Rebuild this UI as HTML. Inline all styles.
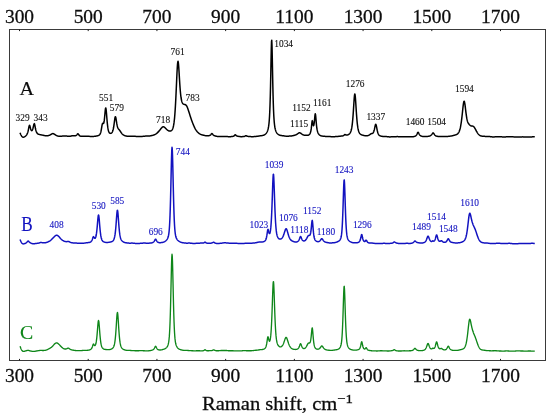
<!DOCTYPE html>
<html><head><meta charset="utf-8"><title>Raman spectra</title>
<style>
html,body{margin:0;padding:0;background:#fff;}
body{width:550px;height:417px;overflow:hidden;}
svg{display:block;will-change:transform;}
text{font-family:"Liberation Serif",serif;}
.t{font-size:18.5px;fill:#0c0c0c;stroke:#0c0c0c;stroke-width:0.25;}
.s{font-size:9.4px;stroke-width:0.1;}
.L{stroke-width:0.15;}
.tr{fill:none;stroke-width:1.5;stroke-linejoin:round;stroke-linecap:butt;}
</style></head><body>
<svg width="550" height="417" viewBox="0 0 550 417">
<rect x="0" y="0" width="550" height="417" fill="#ffffff"/>
<rect x="9.50" y="29.50" width="536.00" height="331.00" fill="none" stroke="#3a3a3a" stroke-width="1"/>
<path d="M19.50,29.50 v1.6 M19.50,360.50 v-1.6 M88.21,29.50 v1.6 M88.21,360.50 v-1.6 M156.93,29.50 v1.6 M156.93,360.50 v-1.6 M225.64,29.50 v1.6 M225.64,360.50 v-1.6 M294.36,29.50 v1.6 M294.36,360.50 v-1.6 M363.07,29.50 v1.6 M363.07,360.50 v-1.6 M431.79,29.50 v1.6 M431.79,360.50 v-1.6 M500.50,29.50 v1.6 M500.50,360.50 v-1.6" stroke="#1a1a1a" stroke-width="1" fill="none"/>
<text class="t" transform="translate(19.50,23.2) scale(1.05,1)" text-anchor="middle">300</text>
<text class="t" transform="translate(19.50,381.8) scale(1.05,1)" text-anchor="middle">300</text>
<text class="t" transform="translate(88.21,23.2) scale(1.05,1)" text-anchor="middle">500</text>
<text class="t" transform="translate(88.21,381.8) scale(1.05,1)" text-anchor="middle">500</text>
<text class="t" transform="translate(156.93,23.2) scale(1.05,1)" text-anchor="middle">700</text>
<text class="t" transform="translate(156.93,381.8) scale(1.05,1)" text-anchor="middle">700</text>
<text class="t" transform="translate(225.64,23.2) scale(1.05,1)" text-anchor="middle">900</text>
<text class="t" transform="translate(225.64,381.8) scale(1.05,1)" text-anchor="middle">900</text>
<text class="t" transform="translate(294.36,23.2) scale(1.05,1)" text-anchor="middle">1100</text>
<text class="t" transform="translate(294.36,381.8) scale(1.05,1)" text-anchor="middle">1100</text>
<text class="t" transform="translate(363.07,23.2) scale(1.05,1)" text-anchor="middle">1300</text>
<text class="t" transform="translate(363.07,381.8) scale(1.05,1)" text-anchor="middle">1300</text>
<text class="t" transform="translate(431.79,23.2) scale(1.05,1)" text-anchor="middle">1500</text>
<text class="t" transform="translate(431.79,381.8) scale(1.05,1)" text-anchor="middle">1500</text>
<text class="t" transform="translate(500.50,23.2) scale(1.05,1)" text-anchor="middle">1700</text>
<text class="t" transform="translate(500.50,381.8) scale(1.05,1)" text-anchor="middle">1700</text>
<text class="t" transform="translate(202.0,409.6) scale(1.105,1)" style="font-size:18.6px">Raman shift, cm<tspan dy="-6.6" style="font-size:13.4px">−1</tspan></text>
<path class="tr" stroke="#000000" d="M20.02,132.74 L20.27,133.34 L20.52,133.93 L20.77,134.49 L21.02,135.01 L21.27,135.48 L21.52,135.90 L21.77,136.26 L22.02,136.56 L22.27,136.80 L22.52,136.98 L22.77,137.11 L23.02,137.19 L23.27,137.21 L23.52,137.20 L23.77,137.14 L24.02,137.06 L24.27,136.94 L24.52,136.81 L24.77,136.65 L25.02,136.47 L25.27,136.28 L25.52,136.07 L25.77,135.85 L26.02,135.59 L26.27,135.31 L26.52,134.98 L26.77,134.61 L27.02,134.18 L27.27,133.66 L27.52,133.04 L27.77,132.28 L28.02,131.38 L28.27,130.30 L28.52,129.06 L28.77,127.74 L29.02,126.51 L29.27,125.62 L29.52,125.29 L29.77,125.60 L30.02,126.39 L30.27,127.40 L30.52,128.40 L30.77,129.25 L31.02,129.90 L31.27,130.34 L31.52,130.59 L31.77,130.65 L32.02,130.52 L32.27,130.22 L32.52,129.71 L32.77,129.01 L33.02,128.11 L33.27,127.02 L33.52,125.85 L33.77,124.73 L34.02,123.92 L34.27,123.65 L34.52,124.02 L34.77,124.95 L35.02,126.19 L35.27,127.53 L35.52,128.78 L35.77,129.89 L36.02,130.81 L36.27,131.57 L36.52,132.18 L36.77,132.67 L37.02,133.06 L37.27,133.38 L37.52,133.63 L37.77,133.83 L38.02,133.99 L38.27,134.12 L38.52,134.23 L38.77,134.32 L39.02,134.39 L39.27,134.45 L39.52,134.51 L39.77,134.57 L40.02,134.62 L40.27,134.67 L40.52,134.72 L40.77,134.77 L41.02,134.82 L41.27,134.87 L41.52,134.92 L41.77,134.97 L42.02,135.02 L42.27,135.08 L42.52,135.13 L42.77,135.18 L43.02,135.24 L43.27,135.29 L43.52,135.35 L43.77,135.41 L44.02,135.46 L44.27,135.52 L44.52,135.57 L44.77,135.62 L45.02,135.67 L45.27,135.71 L45.52,135.75 L45.77,135.78 L46.02,135.80 L46.27,135.82 L46.52,135.82 L46.77,135.82 L47.02,135.80 L47.27,135.78 L47.52,135.75 L47.77,135.71 L48.02,135.66 L48.27,135.60 L48.52,135.53 L48.77,135.46 L49.02,135.38 L49.27,135.29 L49.52,135.19 L49.77,135.08 L50.02,134.97 L50.27,134.84 L50.52,134.70 L50.77,134.56 L51.02,134.40 L51.27,134.25 L51.52,134.10 L51.77,133.95 L52.02,133.82 L52.27,133.71 L52.52,133.64 L52.77,133.60 L53.02,133.61 L53.27,133.65 L53.52,133.73 L53.77,133.84 L54.02,133.98 L54.27,134.13 L54.52,134.30 L54.77,134.47 L55.02,134.64 L55.27,134.81 L55.52,134.97 L55.77,135.13 L56.02,135.28 L56.27,135.42 L56.52,135.54 L56.77,135.66 L57.02,135.77 L57.27,135.86 L57.52,135.95 L57.77,136.02 L58.02,136.08 L58.27,136.13 L58.52,136.17 L58.77,136.20 L59.02,136.22 L59.27,136.24 L59.52,136.25 L59.77,136.25 L60.02,136.25 L60.27,136.25 L60.52,136.24 L60.77,136.23 L61.02,136.22 L61.27,136.20 L61.52,136.19 L61.77,136.17 L62.02,136.14 L62.27,136.12 L62.52,136.09 L62.77,136.06 L63.02,136.03 L63.27,136.00 L63.52,135.96 L63.77,135.94 L64.02,135.92 L64.27,135.90 L64.52,135.89 L64.77,135.89 L65.02,135.89 L65.27,135.91 L65.52,135.92 L65.77,135.95 L66.02,135.97 L66.27,136.01 L66.52,136.04 L66.77,136.07 L67.02,136.11 L67.27,136.14 L67.52,136.18 L67.77,136.21 L68.02,136.24 L68.27,136.26 L68.52,136.28 L68.77,136.29 L69.02,136.30 L69.27,136.29 L69.52,136.28 L69.77,136.26 L70.02,136.23 L70.27,136.19 L70.52,136.14 L70.77,136.09 L71.02,136.03 L71.27,135.96 L71.52,135.90 L71.77,135.84 L72.02,135.78 L72.27,135.73 L72.52,135.70 L72.77,135.68 L73.02,135.67 L73.27,135.68 L73.52,135.70 L73.77,135.72 L74.02,135.75 L74.27,135.77 L74.52,135.78 L74.77,135.78 L75.02,135.76 L75.27,135.73 L75.52,135.68 L75.77,135.60 L76.02,135.49 L76.27,135.35 L76.52,135.16 L76.77,134.91 L77.02,134.62 L77.27,134.29 L77.52,133.97 L77.77,133.78 L78.02,133.79 L78.27,134.01 L78.52,134.35 L78.77,134.73 L79.02,135.08 L79.27,135.37 L79.52,135.61 L79.77,135.80 L80.02,135.95 L80.27,136.07 L80.52,136.16 L80.77,136.23 L81.02,136.28 L81.27,136.31 L81.52,136.33 L81.77,136.34 L82.02,136.34 L82.27,136.33 L82.52,136.32 L82.77,136.30 L83.02,136.28 L83.27,136.26 L83.52,136.23 L83.77,136.21 L84.02,136.20 L84.27,136.19 L84.52,136.18 L84.77,136.18 L85.02,136.18 L85.27,136.19 L85.52,136.21 L85.77,136.22 L86.02,136.24 L86.27,136.26 L86.52,136.27 L86.77,136.28 L87.02,136.29 L87.27,136.30 L87.52,136.30 L87.77,136.31 L88.02,136.31 L88.27,136.31 L88.52,136.32 L88.77,136.33 L89.02,136.34 L89.27,136.35 L89.52,136.37 L89.77,136.38 L90.02,136.41 L90.27,136.43 L90.52,136.45 L90.77,136.47 L91.02,136.49 L91.27,136.51 L91.52,136.52 L91.77,136.53 L92.02,136.53 L92.27,136.53 L92.52,136.52 L92.77,136.51 L93.02,136.49 L93.27,136.47 L93.52,136.44 L93.77,136.41 L94.02,136.38 L94.27,136.35 L94.52,136.31 L94.77,136.28 L95.02,136.24 L95.27,136.21 L95.52,136.18 L95.77,136.14 L96.02,136.10 L96.27,136.06 L96.52,136.02 L96.77,135.97 L97.02,135.92 L97.27,135.86 L97.52,135.79 L97.77,135.72 L98.02,135.63 L98.27,135.54 L98.52,135.44 L98.77,135.32 L99.02,135.18 L99.27,135.01 L99.52,134.81 L99.77,134.55 L100.02,134.19 L100.27,133.71 L100.52,133.07 L100.77,132.22 L101.02,131.14 L101.27,129.85 L101.52,128.37 L101.77,126.82 L102.02,125.35 L102.27,124.17 L102.52,123.46 L102.77,123.26 L103.02,123.39 L103.27,123.56 L103.52,123.51 L103.77,123.04 L104.02,122.01 L104.27,120.38 L104.52,118.18 L104.77,115.55 L105.02,112.74 L105.27,110.19 L105.52,108.43 L105.77,107.93 L106.02,108.87 L106.27,111.02 L106.52,113.90 L106.77,117.03 L107.02,120.06 L107.27,122.81 L107.52,125.17 L107.77,127.14 L108.02,128.74 L108.27,129.99 L108.52,130.96 L108.77,131.70 L109.02,132.25 L109.27,132.65 L109.52,132.94 L109.77,133.14 L110.02,133.27 L110.27,133.35 L110.52,133.38 L110.77,133.36 L111.02,133.29 L111.27,133.18 L111.52,133.01 L111.77,132.78 L112.02,132.47 L112.27,132.06 L112.52,131.54 L112.77,130.87 L113.02,130.04 L113.27,129.01 L113.52,127.77 L113.77,126.30 L114.02,124.61 L114.27,122.75 L114.52,120.81 L114.77,118.99 L115.02,117.52 L115.27,116.69 L115.52,116.66 L115.77,117.40 L116.02,118.70 L116.27,120.30 L116.52,121.94 L116.77,123.48 L117.02,124.83 L117.27,125.96 L117.52,126.88 L117.77,127.60 L118.02,128.17 L118.27,128.62 L118.52,128.98 L118.77,129.29 L119.02,129.59 L119.27,129.88 L119.52,130.20 L119.77,130.53 L120.02,130.89 L120.27,131.26 L120.52,131.64 L120.77,132.01 L121.02,132.38 L121.27,132.74 L121.52,133.07 L121.77,133.39 L122.02,133.68 L122.27,133.95 L122.52,134.20 L122.77,134.43 L123.02,134.63 L123.27,134.82 L123.52,134.99 L123.77,135.15 L124.02,135.29 L124.27,135.41 L124.52,135.53 L124.77,135.64 L125.02,135.73 L125.27,135.82 L125.52,135.89 L125.77,135.96 L126.02,136.02 L126.27,136.07 L126.52,136.11 L126.77,136.15 L127.02,136.17 L127.27,136.19 L127.52,136.21 L127.77,136.22 L128.02,136.23 L128.27,136.24 L128.52,136.24 L128.77,136.25 L129.02,136.26 L129.27,136.26 L129.52,136.27 L129.77,136.28 L130.02,136.29 L130.27,136.29 L130.52,136.30 L130.77,136.31 L131.02,136.32 L131.27,136.32 L131.52,136.33 L131.77,136.33 L132.02,136.33 L132.27,136.32 L132.52,136.32 L132.77,136.31 L133.02,136.30 L133.27,136.29 L133.52,136.29 L133.77,136.28 L134.02,136.28 L134.27,136.28 L134.52,136.29 L134.77,136.30 L135.02,136.31 L135.27,136.33 L135.52,136.35 L135.77,136.38 L136.02,136.40 L136.27,136.43 L136.52,136.46 L136.77,136.49 L137.02,136.51 L137.27,136.54 L137.52,136.55 L137.77,136.57 L138.02,136.57 L138.27,136.58 L138.52,136.58 L138.77,136.57 L139.02,136.56 L139.27,136.55 L139.52,136.54 L139.77,136.52 L140.02,136.51 L140.27,136.49 L140.52,136.48 L140.77,136.46 L141.02,136.45 L141.27,136.44 L141.52,136.43 L141.77,136.42 L142.02,136.41 L142.27,136.39 L142.52,136.38 L142.77,136.37 L143.02,136.35 L143.27,136.33 L143.52,136.30 L143.77,136.28 L144.02,136.25 L144.27,136.22 L144.52,136.19 L144.77,136.16 L145.02,136.13 L145.27,136.11 L145.52,136.08 L145.77,136.06 L146.02,136.04 L146.27,136.03 L146.52,136.02 L146.77,136.02 L147.02,136.02 L147.27,136.02 L147.52,136.02 L147.77,136.02 L148.02,136.02 L148.27,136.02 L148.52,136.02 L148.77,136.01 L149.02,136.00 L149.27,135.98 L149.52,135.96 L149.77,135.93 L150.02,135.89 L150.27,135.86 L150.52,135.81 L150.77,135.76 L151.02,135.71 L151.27,135.66 L151.52,135.60 L151.77,135.55 L152.02,135.49 L152.27,135.43 L152.52,135.36 L152.77,135.30 L153.02,135.23 L153.27,135.16 L153.52,135.08 L153.77,135.00 L154.02,134.91 L154.27,134.81 L154.52,134.70 L154.77,134.59 L155.02,134.46 L155.27,134.32 L155.52,134.17 L155.77,134.01 L156.02,133.84 L156.27,133.66 L156.52,133.47 L156.77,133.28 L157.02,133.07 L157.27,132.85 L157.52,132.63 L157.77,132.39 L158.02,132.15 L158.27,131.90 L158.52,131.64 L158.77,131.37 L159.02,131.09 L159.27,130.80 L159.52,130.50 L159.77,130.19 L160.02,129.87 L160.27,129.55 L160.52,129.22 L160.77,128.89 L161.02,128.57 L161.27,128.26 L161.52,127.96 L161.77,127.68 L162.02,127.43 L162.27,127.21 L162.52,127.03 L162.77,126.90 L163.02,126.82 L163.27,126.78 L163.52,126.80 L163.77,126.86 L164.02,126.97 L164.27,127.12 L164.52,127.30 L164.77,127.51 L165.02,127.74 L165.27,127.99 L165.52,128.25 L165.77,128.51 L166.02,128.77 L166.27,129.02 L166.52,129.27 L166.77,129.50 L167.02,129.72 L167.27,129.93 L167.52,130.12 L167.77,130.30 L168.02,130.45 L168.27,130.60 L168.52,130.72 L168.77,130.83 L169.02,130.92 L169.27,130.99 L169.52,131.05 L169.77,131.08 L170.02,131.09 L170.27,131.08 L170.52,131.04 L170.77,130.97 L171.02,130.86 L171.27,130.72 L171.52,130.52 L171.77,130.28 L172.02,129.96 L172.27,129.57 L172.52,129.09 L172.77,128.49 L173.02,127.75 L173.27,126.84 L173.52,125.72 L173.77,124.36 L174.02,122.69 L174.27,120.69 L174.52,118.30 L174.77,115.47 L175.02,112.18 L175.27,108.41 L175.52,104.14 L175.77,99.41 L176.02,94.26 L176.27,88.80 L176.52,83.17 L176.77,77.58 L177.02,72.31 L177.27,67.72 L177.52,64.17 L177.77,61.97 L178.02,61.31 L178.27,62.19 L178.52,64.40 L178.77,67.62 L179.02,71.48 L179.27,75.62 L179.52,79.77 L179.77,83.72 L180.02,87.34 L180.27,90.55 L180.52,93.30 L180.77,95.61 L181.02,97.49 L181.27,99.02 L181.52,100.23 L181.77,101.20 L182.02,101.98 L182.27,102.60 L182.52,103.09 L182.77,103.48 L183.02,103.78 L183.27,104.01 L183.52,104.17 L183.77,104.28 L184.02,104.36 L184.27,104.41 L184.52,104.45 L184.77,104.49 L185.02,104.54 L185.27,104.63 L185.52,104.75 L185.77,104.92 L186.02,105.14 L186.27,105.43 L186.52,105.78 L186.77,106.20 L187.02,106.69 L187.27,107.23 L187.52,107.83 L187.77,108.48 L188.02,109.18 L188.27,109.90 L188.52,110.66 L188.77,111.44 L189.02,112.23 L189.27,113.03 L189.52,113.83 L189.77,114.63 L190.02,115.43 L190.27,116.21 L190.52,116.99 L190.77,117.75 L191.02,118.49 L191.27,119.23 L191.52,119.94 L191.77,120.64 L192.02,121.33 L192.27,122.01 L192.52,122.67 L192.77,123.31 L193.02,123.94 L193.27,124.56 L193.52,125.16 L193.77,125.74 L194.02,126.31 L194.27,126.86 L194.52,127.38 L194.77,127.89 L195.02,128.37 L195.27,128.83 L195.52,129.26 L195.77,129.67 L196.02,130.07 L196.27,130.44 L196.52,130.78 L196.77,131.11 L197.02,131.43 L197.27,131.72 L197.52,132.00 L197.77,132.26 L198.02,132.51 L198.27,132.75 L198.52,132.98 L198.77,133.19 L199.02,133.38 L199.27,133.57 L199.52,133.74 L199.77,133.90 L200.02,134.05 L200.27,134.18 L200.52,134.30 L200.77,134.41 L201.02,134.52 L201.27,134.61 L201.52,134.69 L201.77,134.77 L202.02,134.84 L202.27,134.90 L202.52,134.97 L202.77,135.03 L203.02,135.09 L203.27,135.15 L203.52,135.21 L203.77,135.27 L204.02,135.33 L204.27,135.39 L204.52,135.45 L204.77,135.51 L205.02,135.57 L205.27,135.62 L205.52,135.67 L205.77,135.71 L206.02,135.74 L206.27,135.77 L206.52,135.80 L206.77,135.81 L207.02,135.82 L207.27,135.82 L207.52,135.82 L207.77,135.80 L208.02,135.78 L208.27,135.76 L208.52,135.73 L208.77,135.69 L209.02,135.64 L209.27,135.58 L209.52,135.50 L209.77,135.40 L210.02,135.28 L210.27,135.12 L210.52,134.93 L210.77,134.68 L211.02,134.39 L211.27,134.08 L211.52,133.80 L211.77,133.62 L212.02,133.62 L212.27,133.79 L212.52,134.07 L212.77,134.39 L213.02,134.70 L213.27,134.96 L213.52,135.17 L213.77,135.34 L214.02,135.49 L214.27,135.61 L214.52,135.71 L214.77,135.80 L215.02,135.88 L215.27,135.95 L215.52,136.02 L215.77,136.09 L216.02,136.16 L216.27,136.22 L216.52,136.28 L216.77,136.33 L217.02,136.38 L217.27,136.42 L217.52,136.46 L217.77,136.49 L218.02,136.52 L218.27,136.54 L218.52,136.56 L218.77,136.57 L219.02,136.58 L219.27,136.58 L219.52,136.58 L219.77,136.58 L220.02,136.58 L220.27,136.58 L220.52,136.59 L220.77,136.59 L221.02,136.59 L221.27,136.59 L221.52,136.60 L221.77,136.60 L222.02,136.61 L222.27,136.61 L222.52,136.61 L222.77,136.61 L223.02,136.61 L223.27,136.60 L223.52,136.59 L223.77,136.58 L224.02,136.57 L224.27,136.56 L224.52,136.55 L224.77,136.53 L225.02,136.52 L225.27,136.51 L225.52,136.50 L225.77,136.50 L226.02,136.50 L226.27,136.51 L226.52,136.52 L226.77,136.53 L227.02,136.55 L227.27,136.57 L227.52,136.59 L227.77,136.62 L228.02,136.64 L228.27,136.66 L228.52,136.68 L228.77,136.69 L229.02,136.70 L229.27,136.70 L229.52,136.70 L229.77,136.70 L230.02,136.69 L230.27,136.67 L230.52,136.66 L230.77,136.64 L231.02,136.61 L231.27,136.59 L231.52,136.56 L231.77,136.53 L232.02,136.50 L232.27,136.46 L232.52,136.43 L232.77,136.38 L233.02,136.33 L233.27,136.26 L233.52,136.17 L233.77,136.06 L234.02,135.90 L234.27,135.69 L234.52,135.43 L234.77,135.13 L235.02,134.87 L235.27,134.75 L235.52,134.84 L235.77,135.08 L236.02,135.35 L236.27,135.59 L236.52,135.77 L236.77,135.91 L237.02,136.02 L237.27,136.10 L237.52,136.16 L237.77,136.22 L238.02,136.27 L238.27,136.32 L238.52,136.37 L238.77,136.41 L239.02,136.45 L239.27,136.49 L239.52,136.53 L239.77,136.57 L240.02,136.60 L240.27,136.62 L240.52,136.64 L240.77,136.66 L241.02,136.66 L241.27,136.67 L241.52,136.67 L241.77,136.66 L242.02,136.65 L242.27,136.64 L242.52,136.62 L242.77,136.61 L243.02,136.59 L243.27,136.56 L243.52,136.53 L243.77,136.50 L244.02,136.46 L244.27,136.41 L244.52,136.34 L244.77,136.25 L245.02,136.13 L245.27,135.98 L245.52,135.81 L245.77,135.70 L246.02,135.68 L246.27,135.77 L246.52,135.91 L246.77,136.05 L247.02,136.17 L247.27,136.25 L247.52,136.31 L247.77,136.35 L248.02,136.38 L248.27,136.40 L248.52,136.42 L248.77,136.43 L249.02,136.45 L249.27,136.47 L249.52,136.49 L249.77,136.52 L250.02,136.54 L250.27,136.57 L250.52,136.59 L250.77,136.62 L251.02,136.64 L251.27,136.66 L251.52,136.67 L251.77,136.68 L252.02,136.69 L252.27,136.69 L252.52,136.69 L252.77,136.68 L253.02,136.67 L253.27,136.65 L253.52,136.63 L253.77,136.61 L254.02,136.58 L254.27,136.56 L254.52,136.54 L254.77,136.51 L255.02,136.49 L255.27,136.47 L255.52,136.45 L255.77,136.43 L256.02,136.41 L256.27,136.39 L256.52,136.36 L256.77,136.34 L257.02,136.31 L257.27,136.29 L257.52,136.25 L257.77,136.22 L258.02,136.18 L258.27,136.14 L258.52,136.10 L258.77,136.05 L259.02,136.01 L259.27,135.96 L259.52,135.92 L259.77,135.88 L260.02,135.84 L260.27,135.80 L260.52,135.77 L260.77,135.74 L261.02,135.71 L261.27,135.68 L261.52,135.65 L261.77,135.62 L262.02,135.58 L262.27,135.54 L262.52,135.50 L262.77,135.45 L263.02,135.39 L263.27,135.32 L263.52,135.23 L263.77,135.14 L264.02,135.03 L264.27,134.90 L264.52,134.76 L264.77,134.60 L265.02,134.42 L265.27,134.23 L265.52,134.01 L265.77,133.76 L266.02,133.49 L266.27,133.18 L266.52,132.84 L266.77,132.44 L267.02,131.99 L267.27,131.47 L267.52,130.85 L267.77,130.13 L268.02,129.26 L268.27,128.21 L268.52,126.90 L268.77,125.23 L269.02,123.08 L269.27,120.26 L269.52,116.52 L269.77,111.58 L270.02,105.14 L270.27,96.91 L270.52,86.73 L270.77,74.73 L271.02,61.72 L271.27,49.59 L271.52,41.42 L271.77,40.16 L272.02,46.32 L272.27,57.54 L272.52,70.55 L272.77,83.03 L273.02,93.86 L273.27,102.74 L273.52,109.76 L273.77,115.17 L274.02,119.29 L274.27,122.40 L274.52,124.76 L274.77,126.58 L275.02,128.00 L275.27,129.13 L275.52,130.06 L275.77,130.82 L276.02,131.46 L276.27,132.00 L276.52,132.46 L276.77,132.86 L277.02,133.21 L277.27,133.51 L277.52,133.77 L277.77,134.00 L278.02,134.21 L278.27,134.40 L278.52,134.56 L278.77,134.71 L279.02,134.85 L279.27,134.97 L279.52,135.08 L279.77,135.17 L280.02,135.26 L280.27,135.33 L280.52,135.40 L280.77,135.45 L281.02,135.50 L281.27,135.54 L281.52,135.58 L281.77,135.61 L282.02,135.64 L282.27,135.67 L282.52,135.70 L282.77,135.72 L283.02,135.75 L283.27,135.79 L283.52,135.82 L283.77,135.86 L284.02,135.90 L284.27,135.93 L284.52,135.98 L284.77,136.02 L285.02,136.05 L285.27,136.09 L285.52,136.12 L285.77,136.15 L286.02,136.18 L286.27,136.20 L286.52,136.21 L286.77,136.22 L287.02,136.22 L287.27,136.22 L287.52,136.21 L287.77,136.20 L288.02,136.19 L288.27,136.17 L288.52,136.15 L288.77,136.14 L289.02,136.12 L289.27,136.11 L289.52,136.09 L289.77,136.08 L290.02,136.06 L290.27,136.05 L290.52,136.03 L290.77,136.01 L291.02,135.99 L291.27,135.96 L291.52,135.93 L291.77,135.90 L292.02,135.86 L292.27,135.82 L292.52,135.77 L292.77,135.72 L293.02,135.66 L293.27,135.60 L293.52,135.54 L293.77,135.48 L294.02,135.41 L294.27,135.34 L294.52,135.27 L294.77,135.20 L295.02,135.12 L295.27,135.04 L295.52,134.95 L295.77,134.86 L296.02,134.76 L296.27,134.64 L296.52,134.52 L296.77,134.38 L297.02,134.22 L297.27,134.06 L297.52,133.88 L297.77,133.70 L298.02,133.51 L298.27,133.33 L298.52,133.16 L298.77,133.02 L299.02,132.90 L299.27,132.82 L299.52,132.79 L299.77,132.80 L300.02,132.86 L300.27,132.96 L300.52,133.09 L300.77,133.25 L301.02,133.43 L301.27,133.62 L301.52,133.81 L301.77,133.99 L302.02,134.17 L302.27,134.34 L302.52,134.49 L302.77,134.63 L303.02,134.76 L303.27,134.87 L303.52,134.96 L303.77,135.04 L304.02,135.11 L304.27,135.17 L304.52,135.22 L304.77,135.26 L305.02,135.29 L305.27,135.31 L305.52,135.33 L305.77,135.35 L306.02,135.36 L306.27,135.37 L306.52,135.37 L306.77,135.37 L307.02,135.37 L307.27,135.35 L307.52,135.33 L307.77,135.29 L308.02,135.24 L308.27,135.17 L308.52,135.08 L308.77,134.95 L309.02,134.80 L309.27,134.59 L309.52,134.33 L309.77,134.00 L310.02,133.58 L310.27,133.03 L310.52,132.32 L310.77,131.37 L311.02,130.10 L311.27,128.41 L311.52,126.25 L311.77,123.76 L312.02,121.57 L312.27,120.64 L312.52,121.33 L312.77,122.91 L313.02,124.43 L313.27,125.38 L313.52,125.66 L313.77,125.25 L314.02,124.16 L314.27,122.40 L314.52,120.02 L314.77,117.30 L315.02,114.88 L315.27,113.73 L315.52,114.47 L315.77,116.83 L316.02,119.91 L316.27,122.92 L316.52,125.50 L316.77,127.56 L317.02,129.18 L317.27,130.44 L317.52,131.43 L317.77,132.21 L318.02,132.85 L318.27,133.36 L318.52,133.79 L318.77,134.15 L319.02,134.46 L319.27,134.72 L319.52,134.95 L319.77,135.14 L320.02,135.31 L320.27,135.46 L320.52,135.58 L320.77,135.69 L321.02,135.79 L321.27,135.87 L321.52,135.93 L321.77,135.99 L322.02,136.04 L322.27,136.08 L322.52,136.12 L322.77,136.15 L323.02,136.18 L323.27,136.21 L323.52,136.23 L323.77,136.26 L324.02,136.28 L324.27,136.31 L324.52,136.33 L324.77,136.35 L325.02,136.37 L325.27,136.39 L325.52,136.41 L325.77,136.42 L326.02,136.43 L326.27,136.43 L326.52,136.44 L326.77,136.44 L327.02,136.43 L327.27,136.43 L327.52,136.43 L327.77,136.43 L328.02,136.43 L328.27,136.43 L328.52,136.43 L328.77,136.44 L329.02,136.46 L329.27,136.47 L329.52,136.50 L329.77,136.52 L330.02,136.55 L330.27,136.58 L330.52,136.61 L330.77,136.64 L331.02,136.66 L331.27,136.69 L331.52,136.71 L331.77,136.73 L332.02,136.74 L332.27,136.75 L332.52,136.75 L332.77,136.75 L333.02,136.74 L333.27,136.73 L333.52,136.72 L333.77,136.70 L334.02,136.69 L334.27,136.67 L334.52,136.66 L334.77,136.64 L335.02,136.63 L335.27,136.61 L335.52,136.60 L335.77,136.59 L336.02,136.58 L336.27,136.56 L336.52,136.55 L336.77,136.54 L337.02,136.52 L337.27,136.50 L337.52,136.48 L337.77,136.45 L338.02,136.42 L338.27,136.39 L338.52,136.36 L338.77,136.33 L339.02,136.29 L339.27,136.26 L339.52,136.23 L339.77,136.20 L340.02,136.18 L340.27,136.15 L340.52,136.13 L340.77,136.11 L341.02,136.10 L341.27,136.08 L341.52,136.06 L341.77,136.04 L342.02,136.02 L342.27,135.98 L342.52,135.94 L342.77,135.88 L343.02,135.80 L343.27,135.70 L343.52,135.56 L343.77,135.39 L344.02,135.19 L344.27,134.96 L344.52,134.75 L344.77,134.60 L345.02,134.55 L345.27,134.62 L345.52,134.73 L345.77,134.85 L346.02,134.95 L346.27,135.01 L346.52,135.04 L346.77,135.05 L347.02,135.02 L347.27,134.98 L347.52,134.92 L347.77,134.85 L348.02,134.75 L348.27,134.63 L348.52,134.50 L348.77,134.34 L349.02,134.15 L349.27,133.94 L349.52,133.69 L349.77,133.41 L350.02,133.07 L350.27,132.67 L350.52,132.19 L350.77,131.62 L351.02,130.91 L351.27,130.05 L351.52,128.99 L351.77,127.69 L352.02,126.10 L352.27,124.18 L352.52,121.89 L352.77,119.19 L353.02,116.09 L353.27,112.60 L353.52,108.80 L353.77,104.84 L354.02,100.98 L354.27,97.60 L354.52,95.13 L354.77,94.00 L355.02,94.42 L355.27,96.31 L355.52,99.34 L355.77,103.05 L356.02,107.02 L356.27,110.94 L356.52,114.61 L356.77,117.93 L357.02,120.84 L357.27,123.34 L357.52,125.45 L357.77,127.20 L358.02,128.64 L358.27,129.81 L358.52,130.76 L358.77,131.53 L359.02,132.15 L359.27,132.66 L359.52,133.09 L359.77,133.44 L360.02,133.73 L360.27,133.98 L360.52,134.19 L360.77,134.37 L361.02,134.53 L361.27,134.66 L361.52,134.78 L361.77,134.88 L362.02,134.98 L362.27,135.06 L362.52,135.13 L362.77,135.20 L363.02,135.27 L363.27,135.33 L363.52,135.40 L363.77,135.45 L364.02,135.51 L364.27,135.57 L364.52,135.62 L364.77,135.67 L365.02,135.71 L365.27,135.75 L365.52,135.78 L365.77,135.80 L366.02,135.81 L366.27,135.81 L366.52,135.81 L366.77,135.79 L367.02,135.76 L367.27,135.72 L367.52,135.67 L367.77,135.61 L368.02,135.54 L368.27,135.45 L368.52,135.36 L368.77,135.25 L369.02,135.12 L369.27,134.98 L369.52,134.83 L369.77,134.66 L370.02,134.48 L370.27,134.29 L370.52,134.11 L370.77,133.94 L371.02,133.80 L371.27,133.68 L371.52,133.60 L371.77,133.55 L372.02,133.51 L372.27,133.46 L372.52,133.37 L372.77,133.23 L373.02,133.00 L373.27,132.67 L373.52,132.20 L373.77,131.59 L374.02,130.82 L374.27,129.89 L374.52,128.81 L374.77,127.62 L375.02,126.42 L375.27,125.34 L375.52,124.57 L375.77,124.30 L376.02,124.62 L376.27,125.46 L376.52,126.64 L376.77,127.96 L377.02,129.29 L377.27,130.51 L377.52,131.59 L377.77,132.52 L378.02,133.28 L378.27,133.90 L378.52,134.40 L378.77,134.78 L379.02,135.09 L379.27,135.32 L379.52,135.51 L379.77,135.66 L380.02,135.78 L380.27,135.88 L380.52,135.96 L380.77,136.04 L381.02,136.11 L381.27,136.17 L381.52,136.22 L381.77,136.27 L382.02,136.31 L382.27,136.35 L382.52,136.39 L382.77,136.41 L383.02,136.44 L383.27,136.46 L383.52,136.47 L383.77,136.48 L384.02,136.49 L384.27,136.50 L384.52,136.50 L384.77,136.51 L385.02,136.51 L385.27,136.52 L385.52,136.53 L385.77,136.54 L386.02,136.55 L386.27,136.57 L386.52,136.60 L386.77,136.62 L387.02,136.65 L387.27,136.68 L387.52,136.72 L387.77,136.75 L388.02,136.78 L388.27,136.81 L388.52,136.83 L388.77,136.86 L389.02,136.87 L389.27,136.89 L389.52,136.89 L389.77,136.90 L390.02,136.90 L390.27,136.89 L390.52,136.88 L390.77,136.87 L391.02,136.86 L391.27,136.85 L391.52,136.84 L391.77,136.83 L392.02,136.82 L392.27,136.81 L392.52,136.81 L392.77,136.80 L393.02,136.80 L393.27,136.79 L393.52,136.79 L393.77,136.78 L394.02,136.77 L394.27,136.76 L394.52,136.75 L394.77,136.74 L395.02,136.72 L395.27,136.71 L395.52,136.69 L395.77,136.67 L396.02,136.65 L396.27,136.64 L396.52,136.63 L396.77,136.61 L397.02,136.61 L397.27,136.61 L397.52,136.61 L397.77,136.62 L398.02,136.63 L398.27,136.65 L398.52,136.67 L398.77,136.69 L399.02,136.72 L399.27,136.74 L399.52,136.76 L399.77,136.79 L400.02,136.81 L400.27,136.82 L400.52,136.84 L400.77,136.85 L401.02,136.85 L401.27,136.85 L401.52,136.85 L401.77,136.84 L402.02,136.83 L402.27,136.83 L402.52,136.82 L402.77,136.81 L403.02,136.80 L403.27,136.79 L403.52,136.78 L403.77,136.78 L404.02,136.78 L404.27,136.78 L404.52,136.77 L404.77,136.77 L405.02,136.77 L405.27,136.77 L405.52,136.77 L405.77,136.76 L406.02,136.76 L406.27,136.75 L406.52,136.74 L406.77,136.72 L407.02,136.71 L407.27,136.70 L407.52,136.68 L407.77,136.67 L408.02,136.66 L408.27,136.65 L408.52,136.65 L408.77,136.65 L409.02,136.66 L409.27,136.67 L409.52,136.68 L409.77,136.70 L410.02,136.72 L410.27,136.74 L410.52,136.76 L410.77,136.78 L411.02,136.79 L411.27,136.81 L411.52,136.82 L411.77,136.82 L412.02,136.82 L412.27,136.81 L412.52,136.79 L412.77,136.77 L413.02,136.74 L413.27,136.70 L413.52,136.66 L413.77,136.61 L414.02,136.55 L414.27,136.49 L414.52,136.41 L414.77,136.33 L415.02,136.23 L415.27,136.11 L415.52,135.96 L415.77,135.79 L416.02,135.58 L416.27,135.31 L416.52,134.97 L416.77,134.55 L417.02,134.05 L417.27,133.48 L417.52,132.91 L417.77,132.44 L418.02,132.22 L418.27,132.33 L418.52,132.72 L418.77,133.24 L419.02,133.79 L419.27,134.28 L419.52,134.69 L419.77,135.02 L420.02,135.29 L420.27,135.50 L420.52,135.68 L420.77,135.83 L421.02,135.95 L421.27,136.06 L421.52,136.15 L421.77,136.23 L422.02,136.31 L422.27,136.37 L422.52,136.43 L422.77,136.47 L423.02,136.51 L423.27,136.54 L423.52,136.57 L423.77,136.58 L424.02,136.59 L424.27,136.59 L424.52,136.59 L424.77,136.58 L425.02,136.57 L425.27,136.56 L425.52,136.54 L425.77,136.53 L426.02,136.51 L426.27,136.49 L426.52,136.48 L426.77,136.46 L427.02,136.44 L427.27,136.42 L427.52,136.40 L427.77,136.38 L428.02,136.35 L428.27,136.31 L428.52,136.27 L428.77,136.23 L429.02,136.17 L429.27,136.10 L429.52,136.03 L429.77,135.94 L430.02,135.83 L430.27,135.71 L430.52,135.57 L430.77,135.41 L431.02,135.22 L431.27,134.99 L431.52,134.73 L431.77,134.42 L432.02,134.08 L432.27,133.72 L432.52,133.36 L432.77,133.08 L433.02,132.92 L433.27,132.93 L433.52,133.12 L433.77,133.45 L434.02,133.84 L434.27,134.25 L434.52,134.63 L434.77,134.96 L435.02,135.24 L435.27,135.48 L435.52,135.67 L435.77,135.83 L436.02,135.96 L436.27,136.06 L436.52,136.14 L436.77,136.21 L437.02,136.27 L437.27,136.31 L437.52,136.35 L437.77,136.39 L438.02,136.42 L438.27,136.45 L438.52,136.47 L438.77,136.49 L439.02,136.51 L439.27,136.52 L439.52,136.53 L439.77,136.54 L440.02,136.54 L440.27,136.54 L440.52,136.54 L440.77,136.53 L441.02,136.52 L441.27,136.51 L441.52,136.50 L441.77,136.48 L442.02,136.47 L442.27,136.46 L442.52,136.45 L442.77,136.44 L443.02,136.44 L443.27,136.44 L443.52,136.44 L443.77,136.45 L444.02,136.46 L444.27,136.48 L444.52,136.49 L444.77,136.51 L445.02,136.52 L445.27,136.54 L445.52,136.55 L445.77,136.55 L446.02,136.56 L446.27,136.55 L446.52,136.55 L446.77,136.53 L447.02,136.52 L447.27,136.49 L447.52,136.47 L447.77,136.44 L448.02,136.41 L448.27,136.38 L448.52,136.34 L448.77,136.31 L449.02,136.28 L449.27,136.24 L449.52,136.21 L449.77,136.18 L450.02,136.15 L450.27,136.12 L450.52,136.09 L450.77,136.05 L451.02,136.01 L451.27,135.97 L451.52,135.93 L451.77,135.88 L452.02,135.83 L452.27,135.77 L452.52,135.71 L452.77,135.65 L453.02,135.59 L453.27,135.52 L453.52,135.45 L453.77,135.38 L454.02,135.31 L454.27,135.24 L454.52,135.17 L454.77,135.10 L455.02,135.03 L455.27,134.96 L455.52,134.88 L455.77,134.80 L456.02,134.71 L456.27,134.62 L456.52,134.51 L456.77,134.38 L457.02,134.24 L457.27,134.07 L457.52,133.88 L457.77,133.66 L458.02,133.40 L458.27,133.09 L458.52,132.74 L458.77,132.32 L459.02,131.84 L459.27,131.28 L459.52,130.62 L459.77,129.86 L460.02,128.98 L460.27,127.97 L460.52,126.80 L460.77,125.48 L461.02,123.99 L461.27,122.32 L461.52,120.47 L461.77,118.45 L462.02,116.27 L462.27,113.97 L462.52,111.58 L462.77,109.19 L463.02,106.90 L463.27,104.82 L463.52,103.10 L463.77,101.89 L464.02,101.28 L464.27,101.34 L464.52,102.04 L464.77,103.29 L465.02,104.97 L465.27,106.92 L465.52,108.99 L465.77,111.08 L466.02,113.09 L466.27,114.96 L466.52,116.65 L466.77,118.14 L467.02,119.42 L467.27,120.49 L467.52,121.38 L467.77,122.10 L468.02,122.67 L468.27,123.14 L468.52,123.52 L468.77,123.85 L469.02,124.15 L469.27,124.44 L469.52,124.71 L469.77,124.98 L470.02,125.22 L470.27,125.44 L470.52,125.62 L470.77,125.77 L471.02,125.88 L471.27,125.96 L471.52,126.01 L471.77,126.04 L472.02,126.06 L472.27,126.07 L472.52,126.09 L472.77,126.13 L473.02,126.21 L473.27,126.33 L473.52,126.50 L473.77,126.72 L474.02,126.99 L474.27,127.31 L474.52,127.68 L474.77,128.08 L475.02,128.51 L475.27,128.96 L475.52,129.43 L475.77,129.90 L476.02,130.37 L476.27,130.84 L476.52,131.29 L476.77,131.74 L477.02,132.16 L477.27,132.57 L477.52,132.96 L477.77,133.32 L478.02,133.66 L478.27,133.98 L478.52,134.27 L478.77,134.54 L479.02,134.78 L479.27,135.00 L479.52,135.19 L479.77,135.37 L480.02,135.52 L480.27,135.65 L480.52,135.76 L480.77,135.86 L481.02,135.94 L481.27,136.01 L481.52,136.06 L481.77,136.11 L482.02,136.14 L482.27,136.17 L482.52,136.20 L482.77,136.22 L483.02,136.24 L483.27,136.26 L483.52,136.28 L483.77,136.30 L484.02,136.32 L484.27,136.33 L484.52,136.35 L484.77,136.37 L485.02,136.39 L485.27,136.40 L485.52,136.41 L485.77,136.42 L486.02,136.43 L486.27,136.44 L486.52,136.44 L486.77,136.44 L487.02,136.44 L487.27,136.44 L487.52,136.44 L487.77,136.44 L488.02,136.44 L488.27,136.45 L488.52,136.46 L488.77,136.48 L489.02,136.50 L489.27,136.52 L489.52,136.55 L489.77,136.58 L490.02,136.61 L490.27,136.65 L490.52,136.69 L490.77,136.72 L491.02,136.76 L491.27,136.79 L491.52,136.82 L491.77,136.84 L492.02,136.86 L492.27,136.88 L492.52,136.89 L492.77,136.90 L493.02,136.90 L493.27,136.90 L493.52,136.90 L493.77,136.89 L494.02,136.89 L494.27,136.88 L494.52,136.88 L494.77,136.87 L495.02,136.87 L495.27,136.87 L495.52,136.87 L495.77,136.87 L496.02,136.87 L496.27,136.87 L496.52,136.87 L496.77,136.87 L497.02,136.87 L497.27,136.86 L497.52,136.85 L497.77,136.84 L498.02,136.83 L498.27,136.81 L498.52,136.80 L498.77,136.78 L499.02,136.77 L499.27,136.75 L499.52,136.74 L499.77,136.74 L500.02,136.74 L500.27,136.74 L500.52,136.74 L500.77,136.76 L501.02,136.77 L501.27,136.79 L501.52,136.81 L501.77,136.83 L502.02,136.86 L502.27,136.88 L502.52,136.90 L502.77,136.92 L503.02,136.94 L503.27,136.95 L503.52,136.95 L503.77,136.96 L504.02,136.95 L504.27,136.95 L504.52,136.94 L504.77,136.93 L505.02,136.92 L505.27,136.90 L505.52,136.89 L505.77,136.88 L506.02,136.86 L506.27,136.85 L506.52,136.85 L506.77,136.84 L507.02,136.83 L507.27,136.83 L507.52,136.83 L507.77,136.82 L508.02,136.82 L508.27,136.81 L508.52,136.81 L508.77,136.80 L509.02,136.79 L509.27,136.77 L509.52,136.76 L509.77,136.75 L510.02,136.73 L510.27,136.72 L510.52,136.71 L510.77,136.70 L511.02,136.69 L511.27,136.69 L511.52,136.69 L511.77,136.70 L512.02,136.71 L512.27,136.73 L512.52,136.75 L512.77,136.78 L513.02,136.81 L513.27,136.84 L513.52,136.87 L513.77,136.90 L514.02,136.92 L514.27,136.95 L514.52,136.97 L514.77,136.99 L515.02,137.00 L515.27,137.01 L515.52,137.01 L515.77,137.01 L516.02,137.01 L516.27,137.01 L516.52,137.00 L516.77,137.00 L517.02,136.99 L517.27,136.98 L517.52,136.98 L517.77,136.98 L518.02,136.97 L518.27,136.97 L518.52,136.98 L518.77,136.98 L519.02,136.98 L519.27,136.98 L519.52,136.98 L519.77,136.98 L520.02,136.97 L520.27,136.97 L520.52,136.96 L520.77,136.95 L521.02,136.94 L521.27,136.93 L521.52,136.91 L521.77,136.90 L522.02,136.89 L522.27,136.88 L522.52,136.87 L522.77,136.87 L523.02,136.87 L523.27,136.88 L523.52,136.89 L523.77,136.91 L524.02,136.93 L524.27,136.95 L524.52,136.97 L524.77,137.00 L525.02,137.02 L525.27,137.05 L525.52,137.07 L525.77,137.08 L526.02,137.10 L526.27,137.11 L526.52,137.11 L526.77,137.11 L527.02,137.11 L527.27,137.10 L527.52,137.09 L527.77,137.07 L528.02,137.06 L528.27,137.04 L528.52,137.03 L528.77,137.01 L529.02,137.00 L529.27,136.99 L529.52,136.98 L529.77,136.97 L530.02,136.96 L530.27,136.96 L530.52,136.95 L530.77,136.94 L531.02,136.93 L531.27,136.92 L531.52,136.91 L531.77,136.90 L532.02,136.88 L532.27,136.86 L532.52,136.85 L532.77,136.83 L533.02,136.81 L533.27,136.79 L533.52,136.78 L533.77,136.76 L534.02,136.75 L534.27,136.75 L534.52,136.75 L534.77,136.76"/>
<path class="tr" stroke="#1212c0" d="M20.02,239.43 L20.27,240.04 L20.52,240.64 L20.77,241.20 L21.02,241.72 L21.27,242.19 L21.52,242.60 L21.77,242.95 L22.02,243.24 L22.27,243.48 L22.52,243.66 L22.77,243.79 L23.02,243.86 L23.27,243.89 L23.52,243.88 L23.77,243.85 L24.02,243.79 L24.27,243.72 L24.52,243.64 L24.77,243.55 L25.02,243.46 L25.27,243.36 L25.52,243.24 L25.77,243.11 L26.02,242.96 L26.27,242.78 L26.52,242.57 L26.77,242.32 L27.02,242.04 L27.27,241.73 L27.52,241.43 L27.77,241.19 L28.02,241.05 L28.27,241.05 L28.52,241.19 L28.77,241.41 L29.02,241.68 L29.27,241.94 L29.52,242.18 L29.77,242.40 L30.02,242.58 L30.27,242.75 L30.52,242.89 L30.77,243.02 L31.02,243.14 L31.27,243.25 L31.52,243.35 L31.77,243.44 L32.02,243.52 L32.27,243.59 L32.52,243.65 L32.77,243.70 L33.02,243.73 L33.27,243.75 L33.52,243.76 L33.77,243.75 L34.02,243.74 L34.27,243.71 L34.52,243.68 L34.77,243.65 L35.02,243.61 L35.27,243.57 L35.52,243.54 L35.77,243.50 L36.02,243.47 L36.27,243.44 L36.52,243.41 L36.77,243.38 L37.02,243.35 L37.27,243.32 L37.52,243.29 L37.77,243.26 L38.02,243.22 L38.27,243.17 L38.52,243.12 L38.77,243.06 L39.02,242.99 L39.27,242.92 L39.52,242.84 L39.77,242.75 L40.02,242.66 L40.27,242.58 L40.52,242.51 L40.77,242.47 L41.02,242.46 L41.27,242.48 L41.52,242.52 L41.77,242.58 L42.02,242.63 L42.27,242.68 L42.52,242.73 L42.77,242.77 L43.02,242.80 L43.27,242.83 L43.52,242.85 L43.77,242.86 L44.02,242.87 L44.27,242.86 L44.52,242.85 L44.77,242.82 L45.02,242.79 L45.27,242.75 L45.52,242.70 L45.77,242.65 L46.02,242.58 L46.27,242.51 L46.52,242.44 L46.77,242.36 L47.02,242.27 L47.27,242.18 L47.52,242.08 L47.77,241.98 L48.02,241.87 L48.27,241.76 L48.52,241.65 L48.77,241.53 L49.02,241.41 L49.27,241.28 L49.52,241.14 L49.77,240.99 L50.02,240.83 L50.27,240.66 L50.52,240.47 L50.77,240.26 L51.02,240.05 L51.27,239.82 L51.52,239.58 L51.77,239.32 L52.02,239.06 L52.27,238.80 L52.52,238.53 L52.77,238.25 L53.02,237.98 L53.27,237.71 L53.52,237.43 L53.77,237.17 L54.02,236.91 L54.27,236.66 L54.52,236.42 L54.77,236.19 L55.02,235.98 L55.27,235.79 L55.52,235.63 L55.77,235.49 L56.02,235.38 L56.27,235.31 L56.52,235.27 L56.77,235.28 L57.02,235.31 L57.27,235.39 L57.52,235.50 L57.77,235.65 L58.02,235.83 L58.27,236.04 L58.52,236.27 L58.77,236.52 L59.02,236.78 L59.27,237.06 L59.52,237.34 L59.77,237.63 L60.02,237.92 L60.27,238.20 L60.52,238.48 L60.77,238.75 L61.02,239.00 L61.27,239.25 L61.52,239.48 L61.77,239.70 L62.02,239.90 L62.27,240.09 L62.52,240.27 L62.77,240.43 L63.02,240.58 L63.27,240.72 L63.52,240.86 L63.77,240.98 L64.02,241.09 L64.27,241.20 L64.52,241.30 L64.77,241.38 L65.02,241.46 L65.27,241.53 L65.52,241.58 L65.77,241.62 L66.02,241.64 L66.27,241.65 L66.52,241.63 L66.77,241.61 L67.02,241.56 L67.27,241.51 L67.52,241.46 L67.77,241.42 L68.02,241.40 L68.27,241.41 L68.52,241.45 L68.77,241.53 L69.02,241.63 L69.27,241.75 L69.52,241.87 L69.77,242.00 L70.02,242.12 L70.27,242.24 L70.52,242.34 L70.77,242.44 L71.02,242.53 L71.27,242.61 L71.52,242.67 L71.77,242.73 L72.02,242.78 L72.27,242.82 L72.52,242.85 L72.77,242.88 L73.02,242.90 L73.27,242.91 L73.52,242.92 L73.77,242.92 L74.02,242.92 L74.27,242.93 L74.52,242.93 L74.77,242.93 L75.02,242.94 L75.27,242.95 L75.52,242.97 L75.77,242.99 L76.02,243.01 L76.27,243.04 L76.52,243.07 L76.77,243.11 L77.02,243.14 L77.27,243.18 L77.52,243.22 L77.77,243.25 L78.02,243.28 L78.27,243.30 L78.52,243.32 L78.77,243.34 L79.02,243.35 L79.27,243.35 L79.52,243.35 L79.77,243.35 L80.02,243.34 L80.27,243.33 L80.52,243.33 L80.77,243.32 L81.02,243.31 L81.27,243.30 L81.52,243.29 L81.77,243.28 L82.02,243.27 L82.27,243.27 L82.52,243.26 L82.77,243.25 L83.02,243.24 L83.27,243.22 L83.52,243.20 L83.77,243.18 L84.02,243.15 L84.27,243.12 L84.52,243.09 L84.77,243.05 L85.02,243.01 L85.27,242.97 L85.52,242.92 L85.77,242.88 L86.02,242.84 L86.27,242.80 L86.52,242.77 L86.77,242.74 L87.02,242.71 L87.27,242.68 L87.52,242.66 L87.77,242.64 L88.02,242.62 L88.27,242.60 L88.52,242.57 L88.77,242.55 L89.02,242.51 L89.27,242.46 L89.52,242.40 L89.77,242.33 L90.02,242.24 L90.27,242.13 L90.52,241.99 L90.77,241.81 L91.02,241.60 L91.27,241.34 L91.52,241.02 L91.77,240.62 L92.02,240.12 L92.27,239.50 L92.52,238.78 L92.77,237.98 L93.02,237.23 L93.27,236.73 L93.52,236.63 L93.77,236.91 L94.02,237.37 L94.27,237.84 L94.52,238.18 L94.77,238.35 L95.02,238.33 L95.27,238.11 L95.52,237.67 L95.77,236.99 L96.02,236.03 L96.27,234.76 L96.52,233.14 L96.77,231.14 L97.02,228.77 L97.27,226.06 L97.52,223.11 L97.77,220.13 L98.02,217.48 L98.27,215.59 L98.52,214.90 L98.77,215.59 L99.02,217.50 L99.27,220.19 L99.52,223.23 L99.77,226.26 L100.02,229.07 L100.27,231.54 L100.52,233.65 L100.77,235.40 L101.02,236.82 L101.27,237.96 L101.52,238.85 L101.77,239.54 L102.02,240.09 L102.27,240.51 L102.52,240.85 L102.77,241.12 L103.02,241.34 L103.27,241.53 L103.52,241.68 L103.77,241.81 L104.02,241.93 L104.27,242.03 L104.52,242.12 L104.77,242.19 L105.02,242.26 L105.27,242.32 L105.52,242.37 L105.77,242.41 L106.02,242.44 L106.27,242.47 L106.52,242.48 L106.77,242.49 L107.02,242.49 L107.27,242.48 L107.52,242.46 L107.77,242.44 L108.02,242.41 L108.27,242.37 L108.52,242.34 L108.77,242.30 L109.02,242.26 L109.27,242.22 L109.52,242.18 L109.77,242.13 L110.02,242.09 L110.27,242.05 L110.52,242.00 L110.77,241.95 L111.02,241.89 L111.27,241.82 L111.52,241.75 L111.77,241.65 L112.02,241.54 L112.27,241.40 L112.52,241.24 L112.77,241.04 L113.02,240.79 L113.27,240.49 L113.52,240.12 L113.77,239.65 L114.02,239.06 L114.27,238.32 L114.52,237.37 L114.77,236.17 L115.02,234.68 L115.27,232.83 L115.52,230.60 L115.77,227.97 L116.02,224.95 L116.27,221.62 L116.52,218.14 L116.77,214.82 L117.02,212.10 L117.27,210.46 L117.52,210.29 L117.77,211.62 L118.02,214.13 L118.27,217.35 L118.52,220.81 L118.77,224.17 L119.02,227.25 L119.27,229.94 L119.52,232.24 L119.77,234.14 L120.02,235.68 L120.27,236.91 L120.52,237.90 L120.77,238.67 L121.02,239.29 L121.27,239.79 L121.52,240.19 L121.77,240.53 L122.02,240.82 L122.27,241.08 L122.52,241.30 L122.77,241.50 L123.02,241.68 L123.27,241.84 L123.52,241.99 L123.77,242.12 L124.02,242.23 L124.27,242.34 L124.52,242.43 L124.77,242.51 L125.02,242.58 L125.27,242.64 L125.52,242.69 L125.77,242.74 L126.02,242.78 L126.27,242.82 L126.52,242.85 L126.77,242.89 L127.02,242.92 L127.27,242.95 L127.52,242.98 L127.77,243.01 L128.02,243.04 L128.27,243.07 L128.52,243.09 L128.77,243.11 L129.02,243.13 L129.27,243.14 L129.52,243.15 L129.77,243.16 L130.02,243.16 L130.27,243.16 L130.52,243.15 L130.77,243.14 L131.02,243.13 L131.27,243.12 L131.52,243.12 L131.77,243.11 L132.02,243.11 L132.27,243.11 L132.52,243.12 L132.77,243.13 L133.02,243.15 L133.27,243.17 L133.52,243.20 L133.77,243.22 L134.02,243.26 L134.27,243.29 L134.52,243.32 L134.77,243.35 L135.02,243.38 L135.27,243.40 L135.52,243.42 L135.77,243.44 L136.02,243.45 L136.27,243.46 L136.52,243.46 L136.77,243.46 L137.02,243.45 L137.27,243.44 L137.52,243.43 L137.77,243.43 L138.02,243.42 L138.27,243.41 L138.52,243.40 L138.77,243.40 L139.02,243.39 L139.27,243.39 L139.52,243.38 L139.77,243.38 L140.02,243.37 L140.27,243.37 L140.52,243.36 L140.77,243.34 L141.02,243.33 L141.27,243.30 L141.52,243.28 L141.77,243.25 L142.02,243.23 L142.27,243.20 L142.52,243.17 L142.77,243.14 L143.02,243.11 L143.27,243.09 L143.52,243.07 L143.77,243.06 L144.02,243.06 L144.27,243.05 L144.52,243.06 L144.77,243.07 L145.02,243.08 L145.27,243.10 L145.52,243.12 L145.77,243.14 L146.02,243.16 L146.27,243.18 L146.52,243.20 L146.77,243.21 L147.02,243.22 L147.27,243.22 L147.52,243.23 L147.77,243.22 L148.02,243.21 L148.27,243.20 L148.52,243.19 L148.77,243.17 L149.02,243.15 L149.27,243.13 L149.52,243.11 L149.77,243.09 L150.02,243.07 L150.27,243.05 L150.52,243.03 L150.77,243.00 L151.02,242.97 L151.27,242.94 L151.52,242.90 L151.77,242.85 L152.02,242.79 L152.27,242.72 L152.52,242.63 L152.77,242.52 L153.02,242.39 L153.27,242.23 L153.52,242.03 L153.77,241.79 L154.02,241.50 L154.27,241.14 L154.52,240.71 L154.77,240.24 L155.02,239.76 L155.27,239.37 L155.52,239.19 L155.77,239.28 L156.02,239.61 L156.27,240.07 L156.52,240.56 L156.77,240.99 L157.02,241.37 L157.27,241.67 L157.52,241.92 L157.77,242.11 L158.02,242.27 L158.27,242.39 L158.52,242.49 L158.77,242.56 L159.02,242.61 L159.27,242.65 L159.52,242.67 L159.77,242.68 L160.02,242.68 L160.27,242.67 L160.52,242.66 L160.77,242.64 L161.02,242.62 L161.27,242.59 L161.52,242.56 L161.77,242.52 L162.02,242.49 L162.27,242.44 L162.52,242.39 L162.77,242.34 L163.02,242.28 L163.27,242.20 L163.52,242.12 L163.77,242.03 L164.02,241.93 L164.27,241.81 L164.52,241.68 L164.77,241.54 L165.02,241.38 L165.27,241.21 L165.52,241.02 L165.77,240.81 L166.02,240.59 L166.27,240.34 L166.52,240.07 L166.77,239.76 L167.02,239.42 L167.27,239.03 L167.52,238.58 L167.77,238.04 L168.02,237.38 L168.27,236.55 L168.52,235.46 L168.77,234.03 L169.02,232.10 L169.27,229.51 L169.52,226.04 L169.77,221.49 L170.02,215.65 L170.27,208.39 L170.52,199.68 L170.77,189.68 L171.02,178.77 L171.27,167.72 L171.52,157.72 L171.77,150.37 L172.02,147.26 L172.27,149.16 L172.52,155.59 L172.77,165.09 L173.02,176.01 L173.27,187.03 L173.52,197.29 L173.77,206.34 L174.02,213.96 L174.27,220.14 L174.52,225.00 L174.77,228.73 L175.02,231.53 L175.27,233.61 L175.52,235.16 L175.77,236.32 L176.02,237.21 L176.27,237.91 L176.52,238.47 L176.77,238.94 L177.02,239.33 L177.27,239.66 L177.52,239.96 L177.77,240.22 L178.02,240.46 L178.27,240.67 L178.52,240.87 L178.77,241.05 L179.02,241.23 L179.27,241.39 L179.52,241.54 L179.77,241.69 L180.02,241.82 L180.27,241.95 L180.52,242.07 L180.77,242.18 L181.02,242.28 L181.27,242.37 L181.52,242.45 L181.77,242.52 L182.02,242.58 L182.27,242.64 L182.52,242.69 L182.77,242.73 L183.02,242.77 L183.27,242.81 L183.52,242.84 L183.77,242.87 L184.02,242.90 L184.27,242.93 L184.52,242.96 L184.77,242.99 L185.02,243.02 L185.27,243.05 L185.52,243.07 L185.77,243.10 L186.02,243.11 L186.27,243.13 L186.52,243.14 L186.77,243.15 L187.02,243.15 L187.27,243.15 L187.52,243.14 L187.77,243.13 L188.02,243.12 L188.27,243.11 L188.52,243.10 L188.77,243.10 L189.02,243.09 L189.27,243.09 L189.52,243.09 L189.77,243.10 L190.02,243.12 L190.27,243.14 L190.52,243.16 L190.77,243.19 L191.02,243.21 L191.27,243.25 L191.52,243.28 L191.77,243.31 L192.02,243.34 L192.27,243.36 L192.52,243.38 L192.77,243.40 L193.02,243.41 L193.27,243.42 L193.52,243.43 L193.77,243.43 L194.02,243.42 L194.27,243.42 L194.52,243.41 L194.77,243.40 L195.02,243.39 L195.27,243.39 L195.52,243.38 L195.77,243.37 L196.02,243.37 L196.27,243.37 L196.52,243.36 L196.77,243.36 L197.02,243.36 L197.27,243.35 L197.52,243.34 L197.77,243.33 L198.02,243.32 L198.27,243.30 L198.52,243.28 L198.77,243.26 L199.02,243.24 L199.27,243.21 L199.52,243.18 L199.77,243.15 L200.02,243.13 L200.27,243.10 L200.52,243.08 L200.77,243.07 L201.02,243.06 L201.27,243.05 L201.52,243.05 L201.77,243.05 L202.02,243.05 L202.27,243.05 L202.52,243.05 L202.77,243.04 L203.02,243.03 L203.27,243.00 L203.52,242.95 L203.77,242.86 L204.02,242.74 L204.27,242.58 L204.52,242.39 L204.77,242.21 L205.02,242.13 L205.27,242.20 L205.52,242.38 L205.77,242.59 L206.02,242.77 L206.27,242.91 L206.52,243.01 L206.77,243.09 L207.02,243.15 L207.27,243.20 L207.52,243.23 L207.77,243.26 L208.02,243.28 L208.27,243.30 L208.52,243.32 L208.77,243.32 L209.02,243.33 L209.27,243.33 L209.52,243.32 L209.77,243.30 L210.02,243.28 L210.27,243.26 L210.52,243.23 L210.77,243.19 L211.02,243.14 L211.27,243.09 L211.52,243.04 L211.77,242.97 L212.02,242.89 L212.27,242.80 L212.52,242.69 L212.77,242.57 L213.02,242.43 L213.27,242.32 L213.52,242.26 L213.77,242.29 L214.02,242.41 L214.27,242.58 L214.52,242.75 L214.77,242.91 L215.02,243.04 L215.27,243.15 L215.52,243.23 L215.77,243.30 L216.02,243.34 L216.27,243.38 L216.52,243.40 L216.77,243.42 L217.02,243.43 L217.27,243.43 L217.52,243.43 L217.77,243.43 L218.02,243.42 L218.27,243.42 L218.52,243.41 L218.77,243.40 L219.02,243.40 L219.27,243.39 L219.52,243.38 L219.77,243.37 L220.02,243.36 L220.27,243.35 L220.52,243.33 L220.77,243.30 L221.02,243.28 L221.27,243.24 L221.52,243.21 L221.77,243.17 L222.02,243.13 L222.27,243.08 L222.52,243.03 L222.77,242.99 L223.02,242.95 L223.27,242.91 L223.52,242.87 L223.77,242.84 L224.02,242.82 L224.27,242.80 L224.52,242.79 L224.77,242.79 L225.02,242.80 L225.27,242.81 L225.52,242.83 L225.77,242.85 L226.02,242.88 L226.27,242.91 L226.52,242.94 L226.77,242.97 L227.02,243.00 L227.27,243.03 L227.52,243.05 L227.77,243.07 L228.02,243.09 L228.27,243.11 L228.52,243.12 L228.77,243.13 L229.02,243.14 L229.27,243.15 L229.52,243.16 L229.77,243.17 L230.02,243.19 L230.27,243.20 L230.52,243.21 L230.77,243.22 L231.02,243.23 L231.27,243.25 L231.52,243.25 L231.77,243.26 L232.02,243.26 L232.27,243.26 L232.52,243.26 L232.77,243.25 L233.02,243.24 L233.27,243.23 L233.52,243.22 L233.77,243.20 L234.02,243.18 L234.27,243.17 L234.52,243.16 L234.77,243.15 L235.02,243.15 L235.27,243.15 L235.52,243.16 L235.77,243.18 L236.02,243.20 L236.27,243.22 L236.52,243.25 L236.77,243.28 L237.02,243.31 L237.27,243.35 L237.52,243.38 L237.77,243.41 L238.02,243.44 L238.27,243.46 L238.52,243.48 L238.77,243.49 L239.02,243.50 L239.27,243.51 L239.52,243.51 L239.77,243.51 L240.02,243.51 L240.27,243.50 L240.52,243.50 L240.77,243.49 L241.02,243.49 L241.27,243.49 L241.52,243.48 L241.77,243.48 L242.02,243.48 L242.27,243.48 L242.52,243.48 L242.77,243.48 L243.02,243.47 L243.27,243.46 L243.52,243.45 L243.77,243.44 L244.02,243.42 L244.27,243.40 L244.52,243.38 L244.77,243.35 L245.02,243.32 L245.27,243.29 L245.52,243.26 L245.77,243.24 L246.02,243.21 L246.27,243.19 L246.52,243.18 L246.77,243.17 L247.02,243.16 L247.27,243.16 L247.52,243.17 L247.77,243.18 L248.02,243.19 L248.27,243.21 L248.52,243.22 L248.77,243.24 L249.02,243.25 L249.27,243.27 L249.52,243.28 L249.77,243.28 L250.02,243.28 L250.27,243.28 L250.52,243.27 L250.77,243.26 L251.02,243.24 L251.27,243.23 L251.52,243.20 L251.77,243.18 L252.02,243.16 L252.27,243.14 L252.52,243.12 L252.77,243.09 L253.02,243.07 L253.27,243.06 L253.52,243.04 L253.77,243.02 L254.02,243.00 L254.27,242.97 L254.52,242.95 L254.77,242.92 L255.02,242.88 L255.27,242.84 L255.52,242.80 L255.77,242.75 L256.02,242.70 L256.27,242.65 L256.52,242.59 L256.77,242.53 L257.02,242.46 L257.27,242.40 L257.52,242.34 L257.77,242.28 L258.02,242.22 L258.27,242.17 L258.52,242.12 L258.77,242.08 L259.02,242.05 L259.27,242.02 L259.52,242.00 L259.77,241.99 L260.02,241.98 L260.27,241.98 L260.52,241.99 L260.77,242.00 L261.02,242.00 L261.27,242.01 L261.52,242.01 L261.77,242.00 L262.02,241.99 L262.27,241.96 L262.52,241.93 L262.77,241.88 L263.02,241.83 L263.27,241.76 L263.52,241.68 L263.77,241.59 L264.02,241.49 L264.27,241.36 L264.52,241.22 L264.77,241.05 L265.02,240.83 L265.27,240.56 L265.52,240.22 L265.77,239.75 L266.02,239.13 L266.27,238.31 L266.52,237.24 L266.77,235.90 L267.02,234.31 L267.27,232.55 L267.52,230.88 L267.77,229.69 L268.02,229.34 L268.27,229.84 L268.52,230.85 L268.77,231.94 L269.02,232.84 L269.27,233.41 L269.52,233.60 L269.77,233.39 L270.02,232.76 L270.27,231.67 L270.52,230.08 L270.77,227.90 L271.02,225.04 L271.27,221.39 L271.52,216.89 L271.77,211.47 L272.02,205.16 L272.27,198.12 L272.52,190.71 L272.77,183.60 L273.02,177.79 L273.27,174.41 L273.52,174.30 L273.77,177.47 L274.02,183.17 L274.27,190.25 L274.52,197.70 L274.77,204.82 L275.02,211.23 L275.27,216.78 L275.52,221.43 L275.77,225.23 L276.02,228.27 L276.27,230.67 L276.52,232.54 L276.77,234.00 L277.02,235.13 L277.27,236.02 L277.52,236.71 L277.77,237.27 L278.02,237.72 L278.27,238.07 L278.52,238.36 L278.77,238.59 L279.02,238.77 L279.27,238.90 L279.52,239.00 L279.77,239.06 L280.02,239.08 L280.27,239.07 L280.52,239.04 L280.77,238.97 L281.02,238.86 L281.27,238.73 L281.52,238.55 L281.77,238.33 L282.02,238.07 L282.27,237.76 L282.52,237.39 L282.77,236.97 L283.02,236.48 L283.27,235.92 L283.52,235.30 L283.77,234.62 L284.02,233.87 L284.27,233.08 L284.52,232.26 L284.77,231.43 L285.02,230.64 L285.27,229.92 L285.52,229.34 L285.77,228.93 L286.02,228.74 L286.27,228.78 L286.52,229.07 L286.77,229.56 L287.02,230.22 L287.27,231.01 L287.52,231.87 L287.77,232.76 L288.02,233.64 L288.27,234.50 L288.52,235.30 L288.77,236.06 L289.02,236.75 L289.27,237.37 L289.52,237.93 L289.77,238.43 L290.02,238.87 L290.27,239.26 L290.52,239.60 L290.77,239.89 L291.02,240.15 L291.27,240.37 L291.52,240.56 L291.77,240.73 L292.02,240.89 L292.27,241.02 L292.52,241.15 L292.77,241.26 L293.02,241.37 L293.27,241.47 L293.52,241.56 L293.77,241.65 L294.02,241.73 L294.27,241.80 L294.52,241.87 L294.77,241.92 L295.02,241.97 L295.27,242.00 L295.52,242.02 L295.77,242.03 L296.02,242.02 L296.27,242.00 L296.52,241.96 L296.77,241.90 L297.02,241.83 L297.27,241.73 L297.52,241.60 L297.77,241.45 L298.02,241.26 L298.27,241.02 L298.52,240.72 L298.77,240.35 L299.02,239.90 L299.27,239.35 L299.52,238.70 L299.77,237.99 L300.02,237.29 L300.27,236.74 L300.52,236.50 L300.77,236.63 L301.02,237.08 L301.27,237.72 L301.52,238.39 L301.77,239.01 L302.02,239.53 L302.27,239.94 L302.52,240.27 L302.77,240.51 L303.02,240.69 L303.27,240.81 L303.52,240.89 L303.77,240.92 L304.02,240.92 L304.27,240.89 L304.52,240.82 L304.77,240.71 L305.02,240.56 L305.27,240.37 L305.52,240.14 L305.77,239.86 L306.02,239.54 L306.27,239.17 L306.52,238.75 L306.77,238.30 L307.02,237.82 L307.27,237.33 L307.52,236.85 L307.77,236.41 L308.02,236.02 L308.27,235.73 L308.52,235.53 L308.77,235.43 L309.02,235.40 L309.27,235.40 L309.52,235.37 L309.77,235.25 L310.02,234.97 L310.27,234.42 L310.52,233.54 L310.77,232.22 L311.02,230.41 L311.27,228.10 L311.52,225.42 L311.77,222.75 L312.02,220.80 L312.27,220.36 L312.52,221.70 L312.77,224.33 L313.02,227.41 L313.27,230.36 L313.52,232.89 L313.77,234.93 L314.02,236.52 L314.27,237.73 L314.52,238.63 L314.77,239.30 L315.02,239.81 L315.27,240.20 L315.52,240.51 L315.77,240.75 L316.02,240.96 L316.27,241.12 L316.52,241.27 L316.77,241.38 L317.02,241.48 L317.27,241.56 L317.52,241.61 L317.77,241.64 L318.02,241.65 L318.27,241.64 L318.52,241.60 L318.77,241.53 L319.02,241.43 L319.27,241.30 L319.52,241.13 L319.77,240.92 L320.02,240.66 L320.27,240.37 L320.52,240.04 L320.77,239.69 L321.02,239.34 L321.27,239.03 L321.52,238.80 L321.77,238.70 L322.02,238.75 L322.27,238.93 L322.52,239.23 L322.77,239.59 L323.02,239.98 L323.27,240.35 L323.52,240.69 L323.77,241.00 L324.02,241.26 L324.27,241.48 L324.52,241.66 L324.77,241.82 L325.02,241.94 L325.27,242.05 L325.52,242.14 L325.77,242.21 L326.02,242.28 L326.27,242.34 L326.52,242.39 L326.77,242.44 L327.02,242.49 L327.27,242.54 L327.52,242.59 L327.77,242.64 L328.02,242.68 L328.27,242.73 L328.52,242.78 L328.77,242.82 L329.02,242.86 L329.27,242.89 L329.52,242.92 L329.77,242.94 L330.02,242.95 L330.27,242.96 L330.52,242.96 L330.77,242.96 L331.02,242.95 L331.27,242.94 L331.52,242.93 L331.77,242.91 L332.02,242.89 L332.27,242.87 L332.52,242.85 L332.77,242.83 L333.02,242.81 L333.27,242.79 L333.52,242.77 L333.77,242.74 L334.02,242.71 L334.27,242.68 L334.52,242.65 L334.77,242.61 L335.02,242.56 L335.27,242.51 L335.52,242.45 L335.77,242.38 L336.02,242.31 L336.27,242.23 L336.52,242.14 L336.77,242.05 L337.02,241.95 L337.27,241.84 L337.52,241.73 L337.77,241.62 L338.02,241.49 L338.27,241.36 L338.52,241.22 L338.77,241.06 L339.02,240.89 L339.27,240.69 L339.52,240.46 L339.77,240.18 L340.02,239.86 L340.27,239.46 L340.52,238.95 L340.77,238.30 L341.02,237.43 L341.27,236.25 L341.52,234.65 L341.77,232.46 L342.02,229.50 L342.27,225.62 L342.52,220.66 L342.77,214.57 L343.02,207.44 L343.27,199.58 L343.52,191.67 L343.77,184.81 L344.02,180.49 L344.27,179.93 L344.52,183.30 L344.77,189.61 L345.02,197.37 L345.27,205.33 L345.52,212.71 L345.77,219.11 L346.02,224.38 L346.27,228.56 L346.52,231.75 L346.77,234.14 L347.02,235.89 L347.27,237.18 L347.52,238.13 L347.77,238.84 L348.02,239.39 L348.27,239.83 L348.52,240.19 L348.77,240.49 L349.02,240.74 L349.27,240.97 L349.52,241.17 L349.77,241.35 L350.02,241.51 L350.27,241.67 L350.52,241.81 L350.77,241.94 L351.02,242.06 L351.27,242.18 L351.52,242.28 L351.77,242.38 L352.02,242.47 L352.27,242.54 L352.52,242.61 L352.77,242.67 L353.02,242.72 L353.27,242.76 L353.52,242.80 L353.77,242.82 L354.02,242.84 L354.27,242.85 L354.52,242.86 L354.77,242.86 L355.02,242.86 L355.27,242.86 L355.52,242.86 L355.77,242.85 L356.02,242.84 L356.27,242.82 L356.52,242.80 L356.77,242.78 L357.02,242.75 L357.27,242.70 L357.52,242.65 L357.77,242.58 L358.02,242.50 L358.27,242.39 L358.52,242.26 L358.77,242.10 L359.02,241.91 L359.27,241.67 L359.52,241.36 L359.77,240.98 L360.02,240.50 L360.27,239.87 L360.52,239.06 L360.77,238.04 L361.02,236.84 L361.27,235.62 L361.52,234.71 L361.77,234.52 L362.02,235.15 L362.27,236.29 L362.52,237.53 L362.77,238.63 L363.02,239.51 L363.27,240.18 L363.52,240.68 L363.77,241.05 L364.02,241.29 L364.27,241.44 L364.52,241.50 L364.77,241.47 L365.02,241.34 L365.27,241.11 L365.52,240.77 L365.77,240.39 L366.02,240.13 L366.27,240.15 L366.52,240.47 L366.77,240.94 L367.02,241.41 L367.27,241.80 L367.52,242.10 L367.77,242.33 L368.02,242.51 L368.27,242.65 L368.52,242.76 L368.77,242.84 L369.02,242.91 L369.27,242.96 L369.52,243.00 L369.77,243.03 L370.02,243.05 L370.27,243.06 L370.52,243.07 L370.77,243.07 L371.02,243.08 L371.27,243.08 L371.52,243.08 L371.77,243.08 L372.02,243.09 L372.27,243.10 L372.52,243.12 L372.77,243.14 L373.02,243.16 L373.27,243.19 L373.52,243.23 L373.77,243.26 L374.02,243.30 L374.27,243.34 L374.52,243.38 L374.77,243.42 L375.02,243.45 L375.27,243.48 L375.52,243.51 L375.77,243.53 L376.02,243.54 L376.27,243.55 L376.52,243.56 L376.77,243.57 L377.02,243.57 L377.27,243.57 L377.52,243.57 L377.77,243.56 L378.02,243.56 L378.27,243.56 L378.52,243.56 L378.77,243.57 L379.02,243.57 L379.27,243.57 L379.52,243.57 L379.77,243.57 L380.02,243.57 L380.27,243.57 L380.52,243.56 L380.77,243.56 L381.02,243.54 L381.27,243.53 L381.52,243.51 L381.77,243.48 L382.02,243.46 L382.27,243.43 L382.52,243.41 L382.77,243.39 L383.02,243.37 L383.27,243.35 L383.52,243.34 L383.77,243.33 L384.02,243.33 L384.27,243.33 L384.52,243.34 L384.77,243.35 L385.02,243.37 L385.27,243.39 L385.52,243.41 L385.77,243.43 L386.02,243.45 L386.27,243.47 L386.52,243.49 L386.77,243.50 L387.02,243.51 L387.27,243.52 L387.52,243.52 L387.77,243.51 L388.02,243.50 L388.27,243.49 L388.52,243.48 L388.77,243.46 L389.02,243.45 L389.27,243.43 L389.52,243.41 L389.77,243.40 L390.02,243.38 L390.27,243.37 L390.52,243.35 L390.77,243.33 L391.02,243.31 L391.27,243.29 L391.52,243.26 L391.77,243.22 L392.02,243.17 L392.27,243.10 L392.52,243.02 L392.77,242.92 L393.02,242.79 L393.27,242.63 L393.52,242.44 L393.77,242.25 L394.02,242.07 L394.27,241.97 L394.52,241.98 L394.77,242.08 L395.02,242.25 L395.27,242.42 L395.52,242.57 L395.77,242.71 L396.02,242.82 L396.27,242.92 L396.52,243.01 L396.77,243.09 L397.02,243.15 L397.27,243.22 L397.52,243.27 L397.77,243.32 L398.02,243.36 L398.27,243.40 L398.52,243.43 L398.77,243.45 L399.02,243.47 L399.27,243.48 L399.52,243.49 L399.77,243.50 L400.02,243.50 L400.27,243.50 L400.52,243.50 L400.77,243.51 L401.02,243.51 L401.27,243.51 L401.52,243.51 L401.77,243.52 L402.02,243.52 L402.27,243.53 L402.52,243.53 L402.77,243.54 L403.02,243.54 L403.27,243.53 L403.52,243.53 L403.77,243.52 L404.02,243.51 L404.27,243.49 L404.52,243.47 L404.77,243.45 L405.02,243.43 L405.27,243.40 L405.52,243.38 L405.77,243.36 L406.02,243.34 L406.27,243.33 L406.52,243.32 L406.77,243.31 L407.02,243.31 L407.27,243.32 L407.52,243.33 L407.77,243.34 L408.02,243.36 L408.27,243.38 L408.52,243.39 L408.77,243.41 L409.02,243.42 L409.27,243.43 L409.52,243.44 L409.77,243.44 L410.02,243.43 L410.27,243.41 L410.52,243.39 L410.77,243.36 L411.02,243.33 L411.27,243.28 L411.52,243.23 L411.77,243.17 L412.02,243.10 L412.27,243.02 L412.52,242.93 L412.77,242.81 L413.02,242.68 L413.27,242.51 L413.52,242.32 L413.77,242.08 L414.02,241.81 L414.27,241.52 L414.52,241.26 L414.77,241.07 L415.02,241.02 L415.27,241.11 L415.52,241.30 L415.77,241.55 L416.02,241.79 L416.27,242.00 L416.52,242.17 L416.77,242.31 L417.02,242.42 L417.27,242.51 L417.52,242.57 L417.77,242.63 L418.02,242.67 L418.27,242.71 L418.52,242.75 L418.77,242.79 L419.02,242.82 L419.27,242.86 L419.52,242.89 L419.77,242.92 L420.02,242.95 L420.27,242.98 L420.52,243.00 L420.77,243.01 L421.02,243.02 L421.27,243.02 L421.52,243.02 L421.77,243.01 L422.02,242.99 L422.27,242.96 L422.52,242.93 L422.77,242.89 L423.02,242.84 L423.27,242.78 L423.52,242.72 L423.77,242.64 L424.02,242.55 L424.27,242.45 L424.52,242.32 L424.77,242.17 L425.02,241.98 L425.27,241.74 L425.52,241.45 L425.77,241.09 L426.02,240.66 L426.27,240.15 L426.52,239.55 L426.77,238.88 L427.02,238.15 L427.27,237.43 L427.52,236.79 L427.77,236.34 L428.02,236.16 L428.27,236.29 L428.52,236.70 L428.77,237.29 L429.02,237.95 L429.27,238.62 L429.52,239.24 L429.77,239.79 L430.02,240.26 L430.27,240.65 L430.52,240.96 L430.77,241.19 L431.02,241.36 L431.27,241.46 L431.52,241.49 L431.77,241.44 L432.02,241.32 L432.27,241.14 L432.52,240.94 L432.77,240.81 L433.02,240.83 L433.27,240.96 L433.52,241.10 L433.77,241.17 L434.02,241.13 L434.27,240.98 L434.52,240.70 L434.77,240.29 L435.02,239.72 L435.27,239.01 L435.52,238.14 L435.77,237.17 L436.02,236.18 L436.27,235.36 L436.52,234.93 L436.77,235.03 L437.02,235.63 L437.27,236.53 L437.52,237.53 L437.77,238.46 L438.02,239.27 L438.27,239.93 L438.52,240.44 L438.77,240.82 L439.02,241.08 L439.27,241.24 L439.52,241.32 L439.77,241.33 L440.02,241.28 L440.27,241.19 L440.52,241.06 L440.77,240.92 L441.02,240.81 L441.27,240.75 L441.52,240.78 L441.77,240.91 L442.02,241.10 L442.27,241.32 L442.52,241.54 L442.77,241.74 L443.02,241.92 L443.27,242.06 L443.52,242.17 L443.77,242.25 L444.02,242.30 L444.27,242.33 L444.52,242.34 L444.77,242.32 L445.02,242.28 L445.27,242.21 L445.52,242.12 L445.77,241.99 L446.02,241.83 L446.27,241.63 L446.52,241.37 L446.77,241.05 L447.02,240.66 L447.27,240.20 L447.52,239.71 L447.77,239.23 L448.02,238.87 L448.27,238.72 L448.52,238.85 L448.77,239.20 L449.02,239.68 L449.27,240.18 L449.52,240.64 L449.77,241.03 L450.02,241.35 L450.27,241.60 L450.52,241.80 L450.77,241.96 L451.02,242.09 L451.27,242.18 L451.52,242.26 L451.77,242.33 L452.02,242.39 L452.27,242.44 L452.52,242.49 L452.77,242.54 L453.02,242.59 L453.27,242.63 L453.52,242.68 L453.77,242.72 L454.02,242.77 L454.27,242.81 L454.52,242.85 L454.77,242.88 L455.02,242.92 L455.27,242.94 L455.52,242.96 L455.77,242.97 L456.02,242.98 L456.27,242.98 L456.52,242.97 L456.77,242.96 L457.02,242.95 L457.27,242.93 L457.52,242.91 L457.77,242.89 L458.02,242.87 L458.27,242.84 L458.52,242.82 L458.77,242.79 L459.02,242.77 L459.27,242.74 L459.52,242.71 L459.77,242.67 L460.02,242.63 L460.27,242.58 L460.52,242.53 L460.77,242.47 L461.02,242.40 L461.27,242.32 L461.52,242.23 L461.77,242.14 L462.02,242.03 L462.27,241.92 L462.52,241.79 L462.77,241.66 L463.02,241.52 L463.27,241.36 L463.52,241.19 L463.77,240.99 L464.02,240.77 L464.27,240.52 L464.52,240.23 L464.77,239.88 L465.02,239.46 L465.27,238.96 L465.52,238.36 L465.77,237.65 L466.02,236.80 L466.27,235.80 L466.52,234.63 L466.77,233.28 L467.02,231.75 L467.27,230.04 L467.52,228.16 L467.77,226.12 L468.02,223.98 L468.27,221.79 L468.52,219.62 L468.77,217.59 L469.02,215.83 L469.27,214.46 L469.52,213.58 L469.77,213.23 L470.02,213.41 L470.27,214.02 L470.52,214.93 L470.77,216.03 L471.02,217.20 L471.27,218.35 L471.52,219.45 L471.77,220.45 L472.02,221.38 L472.27,222.23 L472.52,223.03 L472.77,223.77 L473.02,224.46 L473.27,225.10 L473.52,225.69 L473.77,226.25 L474.02,226.78 L474.27,227.29 L474.52,227.82 L474.77,228.36 L475.02,228.94 L475.27,229.55 L475.52,230.21 L475.77,230.90 L476.02,231.63 L476.27,232.38 L476.52,233.15 L476.77,233.92 L477.02,234.69 L477.27,235.44 L477.52,236.17 L477.77,236.87 L478.02,237.53 L478.27,238.15 L478.52,238.72 L478.77,239.24 L479.02,239.72 L479.27,240.14 L479.52,240.52 L479.77,240.86 L480.02,241.15 L480.27,241.41 L480.52,241.63 L480.77,241.82 L481.02,241.99 L481.27,242.14 L481.52,242.27 L481.77,242.38 L482.02,242.48 L482.27,242.56 L482.52,242.64 L482.77,242.70 L483.02,242.76 L483.27,242.80 L483.52,242.84 L483.77,242.87 L484.02,242.89 L484.27,242.91 L484.52,242.93 L484.77,242.93 L485.02,242.94 L485.27,242.94 L485.52,242.95 L485.77,242.95 L486.02,242.96 L486.27,242.97 L486.52,242.98 L486.77,243.00 L487.02,243.03 L487.27,243.06 L487.52,243.09 L487.77,243.12 L488.02,243.16 L488.27,243.20 L488.52,243.24 L488.77,243.28 L489.02,243.32 L489.27,243.35 L489.52,243.38 L489.77,243.41 L490.02,243.43 L490.27,243.44 L490.52,243.45 L490.77,243.46 L491.02,243.46 L491.27,243.46 L491.52,243.46 L491.77,243.46 L492.02,243.46 L492.27,243.45 L492.52,243.45 L492.77,243.45 L493.02,243.45 L493.27,243.45 L493.52,243.45 L493.77,243.45 L494.02,243.45 L494.27,243.45 L494.52,243.45 L494.77,243.44 L495.02,243.43 L495.27,243.42 L495.52,243.40 L495.77,243.38 L496.02,243.36 L496.27,243.33 L496.52,243.31 L496.77,243.28 L497.02,243.26 L497.27,243.24 L497.52,243.23 L497.77,243.22 L498.02,243.21 L498.27,243.21 L498.52,243.22 L498.77,243.23 L499.02,243.25 L499.27,243.27 L499.52,243.29 L499.77,243.32 L500.02,243.35 L500.27,243.37 L500.52,243.40 L500.77,243.42 L501.02,243.44 L501.27,243.46 L501.52,243.47 L501.77,243.47 L502.02,243.48 L502.27,243.48 L502.52,243.48 L502.77,243.47 L503.02,243.47 L503.27,243.47 L503.52,243.46 L503.77,243.46 L504.02,243.46 L504.27,243.46 L504.52,243.46 L504.77,243.46 L505.02,243.47 L505.27,243.47 L505.52,243.48 L505.77,243.48 L506.02,243.48 L506.27,243.48 L506.52,243.47 L506.77,243.46 L507.02,243.45 L507.27,243.44 L507.52,243.42 L507.77,243.40 L508.02,243.38 L508.27,243.37 L508.52,243.35 L508.77,243.34 L509.02,243.34 L509.27,243.33 L509.52,243.34 L509.77,243.35 L510.02,243.36 L510.27,243.38 L510.52,243.41 L510.77,243.44 L511.02,243.47 L511.27,243.50 L511.52,243.54 L511.77,243.57 L512.02,243.60 L512.27,243.63 L512.52,243.65 L512.77,243.67 L513.02,243.68 L513.27,243.69 L513.52,243.70 L513.77,243.70 L514.02,243.70 L514.27,243.69 L514.52,243.69 L514.77,243.69 L515.02,243.68 L515.27,243.68 L515.52,243.68 L515.77,243.68 L516.02,243.68 L516.27,243.68 L516.52,243.68 L516.77,243.68 L517.02,243.68 L517.27,243.67 L517.52,243.67 L517.77,243.66 L518.02,243.65 L518.27,243.63 L518.52,243.61 L518.77,243.59 L519.02,243.56 L519.27,243.54 L519.52,243.51 L519.77,243.49 L520.02,243.46 L520.27,243.44 L520.52,243.43 L520.77,243.42 L521.02,243.41 L521.27,243.42 L521.52,243.42 L521.77,243.43 L522.02,243.45 L522.27,243.47 L522.52,243.49 L522.77,243.52 L523.02,243.54 L523.27,243.56 L523.52,243.58 L523.77,243.60 L524.02,243.61 L524.27,243.62 L524.52,243.62 L524.77,243.62 L525.02,243.62 L525.27,243.61 L525.52,243.60 L525.77,243.59 L526.02,243.58 L526.27,243.57 L526.52,243.56 L526.77,243.55 L527.02,243.55 L527.27,243.54 L527.52,243.54 L527.77,243.54 L528.02,243.53 L528.27,243.53 L528.52,243.53 L528.77,243.52 L529.02,243.52 L529.27,243.51 L529.52,243.49 L529.77,243.48 L530.02,243.46 L530.27,243.44 L530.52,243.42 L530.77,243.39 L531.02,243.37 L531.27,243.35 L531.52,243.34 L531.77,243.32 L532.02,243.32 L532.27,243.31 L532.52,243.32 L532.77,243.33 L533.02,243.35 L533.27,243.37 L533.52,243.39 L533.77,243.42 L534.02,243.45 L534.27,243.48 L534.52,243.52 L534.77,243.55"/>
<path class="tr" style="stroke-width:1.35" stroke="#0e8619" d="M20.02,346.15 L20.27,346.85 L20.52,347.54 L20.77,348.19 L21.02,348.78 L21.27,349.32 L21.52,349.80 L21.77,350.21 L22.02,350.56 L22.27,350.85 L22.52,351.07 L22.77,351.24 L23.02,351.35 L23.27,351.40 L23.52,351.42 L23.77,351.40 L24.02,351.36 L24.27,351.30 L24.52,351.23 L24.77,351.16 L25.02,351.09 L25.27,351.02 L25.52,350.95 L25.77,350.88 L26.02,350.81 L26.27,350.74 L26.52,350.67 L26.77,350.59 L27.02,350.51 L27.27,350.44 L27.52,350.37 L27.77,350.32 L28.02,350.30 L28.27,350.33 L28.52,350.39 L28.77,350.47 L29.02,350.57 L29.27,350.67 L29.52,350.75 L29.77,350.83 L30.02,350.90 L30.27,350.96 L30.52,351.01 L30.77,351.06 L31.02,351.11 L31.27,351.15 L31.52,351.19 L31.77,351.23 L32.02,351.27 L32.27,351.30 L32.52,351.33 L32.77,351.36 L33.02,351.38 L33.27,351.39 L33.52,351.39 L33.77,351.39 L34.02,351.38 L34.27,351.36 L34.52,351.33 L34.77,351.30 L35.02,351.26 L35.27,351.22 L35.52,351.17 L35.77,351.13 L36.02,351.08 L36.27,351.03 L36.52,350.98 L36.77,350.94 L37.02,350.89 L37.27,350.85 L37.52,350.81 L37.77,350.77 L38.02,350.73 L38.27,350.70 L38.52,350.66 L38.77,350.63 L39.02,350.59 L39.27,350.56 L39.52,350.51 L39.77,350.46 L40.02,350.41 L40.27,350.36 L40.52,350.32 L40.77,350.30 L41.02,350.30 L41.27,350.33 L41.52,350.37 L41.77,350.41 L42.02,350.44 L42.27,350.47 L42.52,350.48 L42.77,350.49 L43.02,350.50 L43.27,350.49 L43.52,350.48 L43.77,350.47 L44.02,350.45 L44.27,350.43 L44.52,350.41 L44.77,350.37 L45.02,350.34 L45.27,350.30 L45.52,350.25 L45.77,350.19 L46.02,350.12 L46.27,350.05 L46.52,349.96 L46.77,349.86 L47.02,349.76 L47.27,349.64 L47.52,349.52 L47.77,349.39 L48.02,349.26 L48.27,349.13 L48.52,348.99 L48.77,348.86 L49.02,348.73 L49.27,348.59 L49.52,348.46 L49.77,348.32 L50.02,348.18 L50.27,348.03 L50.52,347.87 L50.77,347.71 L51.02,347.53 L51.27,347.35 L51.52,347.15 L51.77,346.93 L52.02,346.71 L52.27,346.47 L52.52,346.22 L52.77,345.96 L53.02,345.70 L53.27,345.42 L53.52,345.14 L53.77,344.87 L54.02,344.59 L54.27,344.33 L54.52,344.07 L54.77,343.83 L55.02,343.61 L55.27,343.41 L55.52,343.25 L55.77,343.11 L56.02,343.01 L56.27,342.94 L56.52,342.91 L56.77,342.92 L57.02,342.97 L57.27,343.06 L57.52,343.17 L57.77,343.32 L58.02,343.49 L58.27,343.69 L58.52,343.90 L58.77,344.13 L59.02,344.37 L59.27,344.63 L59.52,344.88 L59.77,345.15 L60.02,345.41 L60.27,345.67 L60.52,345.94 L60.77,346.20 L61.02,346.46 L61.27,346.71 L61.52,346.96 L61.77,347.20 L62.02,347.43 L62.27,347.64 L62.52,347.85 L62.77,348.04 L63.02,348.22 L63.27,348.38 L63.52,348.53 L63.77,348.65 L64.02,348.76 L64.27,348.85 L64.52,348.93 L64.77,348.98 L65.02,349.01 L65.27,349.02 L65.52,349.01 L65.77,348.98 L66.02,348.93 L66.27,348.86 L66.52,348.77 L66.77,348.66 L67.02,348.54 L67.27,348.41 L67.52,348.30 L67.77,348.20 L68.02,348.15 L68.27,348.15 L68.52,348.20 L68.77,348.31 L69.02,348.45 L69.27,348.62 L69.52,348.81 L69.77,348.98 L70.02,349.15 L70.27,349.30 L70.52,349.43 L70.77,349.55 L71.02,349.65 L71.27,349.74 L71.52,349.82 L71.77,349.88 L72.02,349.94 L72.27,350.00 L72.52,350.05 L72.77,350.11 L73.02,350.15 L73.27,350.20 L73.52,350.25 L73.77,350.29 L74.02,350.33 L74.27,350.37 L74.52,350.41 L74.77,350.44 L75.02,350.47 L75.27,350.50 L75.52,350.52 L75.77,350.54 L76.02,350.55 L76.27,350.56 L76.52,350.57 L76.77,350.58 L77.02,350.59 L77.27,350.59 L77.52,350.60 L77.77,350.60 L78.02,350.61 L78.27,350.62 L78.52,350.62 L78.77,350.63 L79.02,350.64 L79.27,350.64 L79.52,350.65 L79.77,350.65 L80.02,350.65 L80.27,350.65 L80.52,350.64 L80.77,350.63 L81.02,350.61 L81.27,350.59 L81.52,350.57 L81.77,350.55 L82.02,350.52 L82.27,350.50 L82.52,350.47 L82.77,350.45 L83.02,350.43 L83.27,350.41 L83.52,350.39 L83.77,350.38 L84.02,350.37 L84.27,350.36 L84.52,350.36 L84.77,350.36 L85.02,350.36 L85.27,350.37 L85.52,350.37 L85.77,350.37 L86.02,350.37 L86.27,350.37 L86.52,350.36 L86.77,350.35 L87.02,350.34 L87.27,350.32 L87.52,350.29 L87.77,350.26 L88.02,350.23 L88.27,350.19 L88.52,350.15 L88.77,350.10 L89.02,350.04 L89.27,349.98 L89.52,349.91 L89.77,349.83 L90.02,349.73 L90.27,349.62 L90.52,349.48 L90.77,349.31 L91.02,349.11 L91.27,348.86 L91.52,348.54 L91.77,348.14 L92.02,347.64 L92.27,347.02 L92.52,346.28 L92.77,345.47 L93.02,344.70 L93.27,344.17 L93.52,344.04 L93.77,344.28 L94.02,344.72 L94.27,345.15 L94.52,345.45 L94.77,345.59 L95.02,345.53 L95.27,345.28 L95.52,344.80 L95.77,344.06 L96.02,343.04 L96.27,341.69 L96.52,339.97 L96.77,337.85 L97.02,335.32 L97.27,332.42 L97.52,329.27 L97.77,326.08 L98.02,323.22 L98.27,321.19 L98.52,320.44 L98.77,321.17 L99.02,323.20 L99.27,326.08 L99.52,329.33 L99.77,332.56 L100.02,335.55 L100.27,338.18 L100.52,340.42 L100.77,342.27 L101.02,343.78 L101.27,344.98 L101.52,345.92 L101.77,346.66 L102.02,347.23 L102.27,347.69 L102.52,348.05 L102.77,348.34 L103.02,348.58 L103.27,348.77 L103.52,348.93 L103.77,349.06 L104.02,349.16 L104.27,349.25 L104.52,349.32 L104.77,349.37 L105.02,349.42 L105.27,349.45 L105.52,349.48 L105.77,349.51 L106.02,349.52 L106.27,349.54 L106.52,349.56 L106.77,349.57 L107.02,349.58 L107.27,349.59 L107.52,349.60 L107.77,349.61 L108.02,349.62 L108.27,349.62 L108.52,349.62 L108.77,349.61 L109.02,349.60 L109.27,349.58 L109.52,349.55 L109.77,349.52 L110.02,349.47 L110.27,349.41 L110.52,349.35 L110.77,349.27 L111.02,349.18 L111.27,349.08 L111.52,348.96 L111.77,348.83 L112.02,348.68 L112.27,348.51 L112.52,348.31 L112.77,348.07 L113.02,347.79 L113.27,347.44 L113.52,347.02 L113.77,346.50 L114.02,345.83 L114.27,344.98 L114.52,343.90 L114.77,342.52 L115.02,340.80 L115.27,338.67 L115.52,336.09 L115.77,333.04 L116.02,329.54 L116.27,325.67 L116.52,321.64 L116.77,317.79 L117.02,314.62 L117.27,312.72 L117.52,312.52 L117.77,314.06 L118.02,316.99 L118.27,320.73 L118.52,324.75 L118.77,328.68 L119.02,332.27 L119.27,335.44 L119.52,338.13 L119.77,340.37 L120.02,342.20 L120.27,343.67 L120.52,344.84 L120.77,345.76 L121.02,346.49 L121.27,347.08 L121.52,347.55 L121.77,347.93 L122.02,348.25 L122.27,348.51 L122.52,348.74 L122.77,348.94 L123.02,349.11 L123.27,349.27 L123.52,349.41 L123.77,349.53 L124.02,349.64 L124.27,349.74 L124.52,349.84 L124.77,349.92 L125.02,350.00 L125.27,350.07 L125.52,350.13 L125.77,350.18 L126.02,350.23 L126.27,350.27 L126.52,350.30 L126.77,350.32 L127.02,350.34 L127.27,350.35 L127.52,350.36 L127.77,350.36 L128.02,350.37 L128.27,350.37 L128.52,350.37 L128.77,350.37 L129.02,350.38 L129.27,350.38 L129.52,350.40 L129.77,350.41 L130.02,350.42 L130.27,350.44 L130.52,350.47 L130.77,350.49 L131.02,350.51 L131.27,350.54 L131.52,350.56 L131.77,350.58 L132.02,350.61 L132.27,350.62 L132.52,350.64 L132.77,350.65 L133.02,350.66 L133.27,350.67 L133.52,350.68 L133.77,350.68 L134.02,350.69 L134.27,350.69 L134.52,350.70 L134.77,350.71 L135.02,350.71 L135.27,350.72 L135.52,350.73 L135.77,350.74 L136.02,350.75 L136.27,350.76 L136.52,350.77 L136.77,350.77 L137.02,350.78 L137.27,350.78 L137.52,350.78 L137.77,350.77 L138.02,350.77 L138.27,350.75 L138.52,350.74 L138.77,350.72 L139.02,350.71 L139.27,350.69 L139.52,350.67 L139.77,350.65 L140.02,350.64 L140.27,350.63 L140.52,350.62 L140.77,350.61 L141.02,350.61 L141.27,350.62 L141.52,350.63 L141.77,350.64 L142.02,350.65 L142.27,350.67 L142.52,350.69 L142.77,350.70 L143.02,350.72 L143.27,350.74 L143.52,350.76 L143.77,350.77 L144.02,350.78 L144.27,350.79 L144.52,350.79 L144.77,350.80 L145.02,350.80 L145.27,350.80 L145.52,350.80 L145.77,350.80 L146.02,350.80 L146.27,350.80 L146.52,350.80 L146.77,350.80 L147.02,350.80 L147.27,350.80 L147.52,350.80 L147.77,350.80 L148.02,350.80 L148.27,350.80 L148.52,350.79 L148.77,350.77 L149.02,350.76 L149.27,350.73 L149.52,350.70 L149.77,350.67 L150.02,350.63 L150.27,350.59 L150.52,350.54 L150.77,350.48 L151.02,350.43 L151.27,350.37 L151.52,350.30 L151.77,350.23 L152.02,350.15 L152.27,350.07 L152.52,349.97 L152.77,349.86 L153.02,349.73 L153.27,349.58 L153.52,349.38 L153.77,349.14 L154.02,348.83 L154.27,348.45 L154.52,347.99 L154.77,347.46 L155.02,346.92 L155.27,346.48 L155.52,346.27 L155.77,346.37 L156.02,346.74 L156.27,347.25 L156.52,347.77 L156.77,348.25 L157.02,348.64 L157.27,348.96 L157.52,349.21 L157.77,349.40 L158.02,349.55 L158.27,349.67 L158.52,349.77 L158.77,349.84 L159.02,349.90 L159.27,349.94 L159.52,349.97 L159.77,349.99 L160.02,349.99 L160.27,349.99 L160.52,349.98 L160.77,349.95 L161.02,349.92 L161.27,349.88 L161.52,349.84 L161.77,349.79 L162.02,349.73 L162.27,349.66 L162.52,349.59 L162.77,349.52 L163.02,349.45 L163.27,349.37 L163.52,349.29 L163.77,349.21 L164.02,349.12 L164.27,349.03 L164.52,348.93 L164.77,348.82 L165.02,348.70 L165.27,348.57 L165.52,348.43 L165.77,348.26 L166.02,348.07 L166.27,347.86 L166.52,347.61 L166.77,347.33 L167.02,347.00 L167.27,346.61 L167.52,346.15 L167.77,345.60 L168.02,344.92 L168.27,344.07 L168.52,342.96 L168.77,341.50 L169.02,339.55 L169.27,336.92 L169.52,333.42 L169.77,328.84 L170.02,322.96 L170.27,315.66 L170.52,306.91 L170.77,296.85 L171.02,285.90 L171.27,274.79 L171.52,264.74 L171.77,257.36 L172.02,254.23 L172.27,256.15 L172.52,262.62 L172.77,272.17 L173.02,283.14 L173.27,294.21 L173.52,304.53 L173.77,313.61 L174.02,321.26 L174.27,327.47 L174.52,332.36 L174.77,336.10 L175.02,338.92 L175.27,341.03 L175.52,342.60 L175.77,343.80 L176.02,344.73 L176.27,345.46 L176.52,346.06 L176.77,346.57 L177.02,347.00 L177.27,347.37 L177.52,347.70 L177.77,347.98 L178.02,348.24 L178.27,348.46 L178.52,348.66 L178.77,348.84 L179.02,348.99 L179.27,349.13 L179.52,349.26 L179.77,349.37 L180.02,349.48 L180.27,349.57 L180.52,349.66 L180.77,349.74 L181.02,349.82 L181.27,349.89 L181.52,349.96 L181.77,350.02 L182.02,350.08 L182.27,350.13 L182.52,350.18 L182.77,350.22 L183.02,350.26 L183.27,350.29 L183.52,350.31 L183.77,350.33 L184.02,350.34 L184.27,350.35 L184.52,350.36 L184.77,350.36 L185.02,350.36 L185.27,350.36 L185.52,350.35 L185.77,350.35 L186.02,350.36 L186.27,350.36 L186.52,350.37 L186.77,350.38 L187.02,350.39 L187.27,350.41 L187.52,350.43 L187.77,350.46 L188.02,350.48 L188.27,350.51 L188.52,350.53 L188.77,350.56 L189.02,350.58 L189.27,350.60 L189.52,350.62 L189.77,350.64 L190.02,350.65 L190.27,350.67 L190.52,350.68 L190.77,350.68 L191.02,350.69 L191.27,350.70 L191.52,350.71 L191.77,350.72 L192.02,350.73 L192.27,350.74 L192.52,350.75 L192.77,350.76 L193.02,350.77 L193.27,350.79 L193.52,350.80 L193.77,350.81 L194.02,350.82 L194.27,350.83 L194.52,350.83 L194.77,350.83 L195.02,350.83 L195.27,350.82 L195.52,350.81 L195.77,350.80 L196.02,350.79 L196.27,350.77 L196.52,350.75 L196.77,350.74 L197.02,350.73 L197.27,350.71 L197.52,350.71 L197.77,350.70 L198.02,350.70 L198.27,350.71 L198.52,350.71 L198.77,350.72 L199.02,350.74 L199.27,350.75 L199.52,350.77 L199.77,350.79 L200.02,350.81 L200.27,350.82 L200.52,350.84 L200.77,350.85 L201.02,350.85 L201.27,350.86 L201.52,350.86 L201.77,350.85 L202.02,350.84 L202.27,350.82 L202.52,350.80 L202.77,350.77 L203.02,350.73 L203.27,350.67 L203.52,350.60 L203.77,350.50 L204.02,350.37 L204.27,350.20 L204.52,350.00 L204.77,349.82 L205.02,349.74 L205.27,349.81 L205.52,349.99 L205.77,350.20 L206.02,350.38 L206.27,350.52 L206.52,350.61 L206.77,350.68 L207.02,350.72 L207.27,350.74 L207.52,350.75 L207.77,350.75 L208.02,350.75 L208.27,350.74 L208.52,350.73 L208.77,350.72 L209.02,350.71 L209.27,350.70 L209.52,350.69 L209.77,350.68 L210.02,350.67 L210.27,350.67 L210.52,350.66 L210.77,350.65 L211.02,350.64 L211.27,350.62 L211.52,350.59 L211.77,350.55 L212.02,350.49 L212.27,350.41 L212.52,350.30 L212.77,350.17 L213.02,350.03 L213.27,349.90 L213.52,349.81 L213.77,349.82 L214.02,349.91 L214.27,350.05 L214.52,350.19 L214.77,350.32 L215.02,350.42 L215.27,350.51 L215.52,350.58 L215.77,350.63 L216.02,350.67 L216.27,350.71 L216.52,350.74 L216.77,350.76 L217.02,350.77 L217.27,350.78 L217.52,350.78 L217.77,350.78 L218.02,350.77 L218.27,350.76 L218.52,350.74 L218.77,350.72 L219.02,350.69 L219.27,350.67 L219.52,350.65 L219.77,350.62 L220.02,350.60 L220.27,350.58 L220.52,350.56 L220.77,350.54 L221.02,350.53 L221.27,350.52 L221.52,350.52 L221.77,350.51 L222.02,350.51 L222.27,350.51 L222.52,350.52 L222.77,350.52 L223.02,350.52 L223.27,350.52 L223.52,350.51 L223.77,350.51 L224.02,350.50 L224.27,350.49 L224.52,350.49 L224.77,350.48 L225.02,350.48 L225.27,350.47 L225.52,350.47 L225.77,350.48 L226.02,350.49 L226.27,350.50 L226.52,350.52 L226.77,350.54 L227.02,350.57 L227.27,350.60 L227.52,350.63 L227.77,350.66 L228.02,350.68 L228.27,350.71 L228.52,350.73 L228.77,350.75 L229.02,350.77 L229.27,350.78 L229.52,350.79 L229.77,350.79 L230.02,350.79 L230.27,350.78 L230.52,350.78 L230.77,350.77 L231.02,350.76 L231.27,350.75 L231.52,350.74 L231.77,350.74 L232.02,350.74 L232.27,350.74 L232.52,350.75 L232.77,350.75 L233.02,350.77 L233.27,350.78 L233.52,350.80 L233.77,350.82 L234.02,350.83 L234.27,350.85 L234.52,350.87 L234.77,350.89 L235.02,350.90 L235.27,350.91 L235.52,350.92 L235.77,350.92 L236.02,350.93 L236.27,350.93 L236.52,350.93 L236.77,350.93 L237.02,350.93 L237.27,350.92 L237.52,350.92 L237.77,350.92 L238.02,350.92 L238.27,350.93 L238.52,350.93 L238.77,350.93 L239.02,350.93 L239.27,350.93 L239.52,350.93 L239.77,350.93 L240.02,350.93 L240.27,350.92 L240.52,350.91 L240.77,350.89 L241.02,350.88 L241.27,350.85 L241.52,350.83 L241.77,350.80 L242.02,350.78 L242.27,350.75 L242.52,350.73 L242.77,350.70 L243.02,350.68 L243.27,350.66 L243.52,350.65 L243.77,350.64 L244.02,350.64 L244.27,350.64 L244.52,350.64 L244.77,350.65 L245.02,350.66 L245.27,350.67 L245.52,350.68 L245.77,350.69 L246.02,350.70 L246.27,350.71 L246.52,350.72 L246.77,350.73 L247.02,350.73 L247.27,350.73 L247.52,350.73 L247.77,350.73 L248.02,350.73 L248.27,350.72 L248.52,350.72 L248.77,350.72 L249.02,350.72 L249.27,350.71 L249.52,350.71 L249.77,350.72 L250.02,350.72 L250.27,350.72 L250.52,350.72 L250.77,350.72 L251.02,350.72 L251.27,350.71 L251.52,350.71 L251.77,350.70 L252.02,350.68 L252.27,350.66 L252.52,350.64 L252.77,350.61 L253.02,350.58 L253.27,350.55 L253.52,350.52 L253.77,350.48 L254.02,350.45 L254.27,350.42 L254.52,350.39 L254.77,350.36 L255.02,350.33 L255.27,350.31 L255.52,350.29 L255.77,350.27 L256.02,350.25 L256.27,350.23 L256.52,350.21 L256.77,350.19 L257.02,350.17 L257.27,350.15 L257.52,350.12 L257.77,350.08 L258.02,350.05 L258.27,350.00 L258.52,349.96 L258.77,349.91 L259.02,349.86 L259.27,349.81 L259.52,349.77 L259.77,349.73 L260.02,349.69 L260.27,349.66 L260.52,349.64 L260.77,349.63 L261.02,349.61 L261.27,349.60 L261.52,349.59 L261.77,349.58 L262.02,349.56 L262.27,349.53 L262.52,349.50 L262.77,349.45 L263.02,349.39 L263.27,349.32 L263.52,349.23 L263.77,349.13 L264.02,349.00 L264.27,348.86 L264.52,348.69 L264.77,348.49 L265.02,348.25 L265.27,347.95 L265.52,347.57 L265.77,347.09 L266.02,346.45 L266.27,345.62 L266.52,344.55 L266.77,343.21 L267.02,341.63 L267.27,339.89 L267.52,338.24 L267.77,337.08 L268.02,336.76 L268.27,337.30 L268.52,338.34 L268.77,339.46 L269.02,340.38 L269.27,340.97 L269.52,341.18 L269.77,340.97 L270.02,340.33 L270.27,339.23 L270.52,337.62 L270.77,335.42 L271.02,332.53 L271.27,328.87 L271.52,324.33 L271.77,318.89 L272.02,312.56 L272.27,305.50 L272.52,298.08 L272.77,290.96 L273.02,285.15 L273.27,281.78 L273.52,281.67 L273.77,284.86 L274.02,290.57 L274.27,297.66 L274.52,305.11 L274.77,312.24 L275.02,318.66 L275.27,324.21 L275.52,328.85 L275.77,332.64 L276.02,335.68 L276.27,338.07 L276.52,339.93 L276.77,341.37 L277.02,342.50 L277.27,343.38 L277.52,344.08 L277.77,344.65 L278.02,345.11 L278.27,345.50 L278.52,345.82 L278.77,346.09 L279.02,346.31 L279.27,346.50 L279.52,346.65 L279.77,346.76 L280.02,346.84 L280.27,346.88 L280.52,346.89 L280.77,346.86 L281.02,346.80 L281.27,346.69 L281.52,346.54 L281.77,346.34 L282.02,346.09 L282.27,345.79 L282.52,345.44 L282.77,345.03 L283.02,344.56 L283.27,344.03 L283.52,343.44 L283.77,342.80 L284.02,342.10 L284.27,341.36 L284.52,340.60 L284.77,339.84 L285.02,339.11 L285.27,338.46 L285.52,337.92 L285.77,337.55 L286.02,337.37 L286.27,337.42 L286.52,337.67 L286.77,338.12 L287.02,338.72 L287.27,339.43 L287.52,340.21 L287.77,341.01 L288.02,341.81 L288.27,342.58 L288.52,343.31 L288.77,343.99 L289.02,344.62 L289.27,345.20 L289.52,345.72 L289.77,346.19 L290.02,346.62 L290.27,347.00 L290.52,347.33 L290.77,347.64 L291.02,347.90 L291.27,348.14 L291.52,348.35 L291.77,348.53 L292.02,348.68 L292.27,348.82 L292.52,348.94 L292.77,349.04 L293.02,349.13 L293.27,349.20 L293.52,349.26 L293.77,349.31 L294.02,349.35 L294.27,349.39 L294.52,349.42 L294.77,349.44 L295.02,349.45 L295.27,349.46 L295.52,349.46 L295.77,349.45 L296.02,349.43 L296.27,349.40 L296.52,349.36 L296.77,349.31 L297.02,349.23 L297.27,349.13 L297.52,349.00 L297.77,348.84 L298.02,348.64 L298.27,348.39 L298.52,348.07 L298.77,347.69 L299.02,347.21 L299.27,346.64 L299.52,345.97 L299.77,345.24 L300.02,344.52 L300.27,343.97 L300.52,343.72 L300.77,343.85 L301.02,344.32 L301.27,344.98 L301.52,345.68 L301.77,346.33 L302.02,346.89 L302.27,347.35 L302.52,347.71 L302.77,348.00 L303.02,348.22 L303.27,348.38 L303.52,348.48 L303.77,348.54 L304.02,348.56 L304.27,348.53 L304.52,348.46 L304.77,348.35 L305.02,348.19 L305.27,347.98 L305.52,347.73 L305.77,347.43 L306.02,347.09 L306.27,346.70 L306.52,346.28 L306.77,345.82 L307.02,345.34 L307.27,344.85 L307.52,344.38 L307.77,343.94 L308.02,343.57 L308.27,343.29 L308.52,343.11 L308.77,343.01 L309.02,342.99 L309.27,343.00 L309.52,342.97 L309.77,342.84 L310.02,342.55 L310.27,341.99 L310.52,341.09 L310.77,339.75 L311.02,337.93 L311.27,335.60 L311.52,332.91 L311.77,330.23 L312.02,328.28 L312.27,327.84 L312.52,329.20 L312.77,331.85 L313.02,334.96 L313.27,337.93 L313.52,340.50 L313.77,342.58 L314.02,344.21 L314.27,345.45 L314.52,346.38 L314.77,347.08 L315.02,347.60 L315.27,348.00 L315.52,348.30 L315.77,348.54 L316.02,348.73 L316.27,348.88 L316.52,348.99 L316.77,349.08 L317.02,349.14 L317.27,349.18 L317.52,349.20 L317.77,349.20 L318.02,349.18 L318.27,349.15 L318.52,349.09 L318.77,349.01 L319.02,348.89 L319.27,348.75 L319.52,348.57 L319.77,348.35 L320.02,348.09 L320.27,347.79 L320.52,347.44 L320.77,347.07 L321.02,346.69 L321.27,346.35 L321.52,346.10 L321.77,345.97 L322.02,345.99 L322.27,346.15 L322.52,346.43 L322.77,346.77 L323.02,347.15 L323.27,347.52 L323.52,347.86 L323.77,348.17 L324.02,348.45 L324.27,348.70 L324.52,348.91 L324.77,349.10 L325.02,349.26 L325.27,349.41 L325.52,349.53 L325.77,349.64 L326.02,349.74 L326.27,349.83 L326.52,349.90 L326.77,349.96 L327.02,350.02 L327.27,350.07 L327.52,350.11 L327.77,350.14 L328.02,350.17 L328.27,350.19 L328.52,350.22 L328.77,350.24 L329.02,350.25 L329.27,350.27 L329.52,350.29 L329.77,350.30 L330.02,350.32 L330.27,350.33 L330.52,350.34 L330.77,350.35 L331.02,350.36 L331.27,350.36 L331.52,350.35 L331.77,350.35 L332.02,350.33 L332.27,350.32 L332.52,350.30 L332.77,350.27 L333.02,350.24 L333.27,350.20 L333.52,350.17 L333.77,350.13 L334.02,350.09 L334.27,350.05 L334.52,350.01 L334.77,349.98 L335.02,349.94 L335.27,349.90 L335.52,349.87 L335.77,349.83 L336.02,349.79 L336.27,349.75 L336.52,349.71 L336.77,349.66 L337.02,349.60 L337.27,349.54 L337.52,349.46 L337.77,349.37 L338.02,349.27 L338.27,349.14 L338.52,349.00 L338.77,348.84 L339.02,348.65 L339.27,348.42 L339.52,348.17 L339.77,347.86 L340.02,347.50 L340.27,347.07 L340.52,346.53 L340.77,345.84 L341.02,344.94 L341.27,343.73 L341.52,342.09 L341.77,339.85 L342.02,336.84 L342.27,332.88 L342.52,327.83 L342.77,321.63 L343.02,314.37 L343.27,306.36 L343.52,298.28 L343.77,291.29 L344.02,286.87 L344.27,286.27 L344.52,289.69 L344.77,296.09 L345.02,303.96 L345.27,312.05 L345.52,319.54 L345.77,326.03 L346.02,331.39 L346.27,335.63 L346.52,338.88 L346.77,341.32 L347.02,343.12 L347.27,344.45 L347.52,345.44 L347.77,346.19 L348.02,346.78 L348.27,347.26 L348.52,347.65 L348.77,347.98 L349.02,348.27 L349.27,348.51 L349.52,348.72 L349.77,348.91 L350.02,349.07 L350.27,349.21 L350.52,349.33 L350.77,349.44 L351.02,349.53 L351.27,349.62 L351.52,349.69 L351.77,349.76 L352.02,349.82 L352.27,349.88 L352.52,349.93 L352.77,349.98 L353.02,350.03 L353.27,350.07 L353.52,350.10 L353.77,350.13 L354.02,350.16 L354.27,350.18 L354.52,350.19 L354.77,350.19 L355.02,350.19 L355.27,350.18 L355.52,350.17 L355.77,350.15 L356.02,350.12 L356.27,350.09 L356.52,350.05 L356.77,350.01 L357.02,349.96 L357.27,349.91 L357.52,349.85 L357.77,349.79 L358.02,349.71 L358.27,349.62 L358.52,349.52 L358.77,349.38 L359.02,349.22 L359.27,349.01 L359.52,348.74 L359.77,348.38 L360.02,347.91 L360.27,347.29 L360.52,346.47 L360.77,345.42 L361.02,344.17 L361.27,342.89 L361.52,341.93 L361.77,341.72 L362.02,342.38 L362.27,343.57 L362.52,344.87 L362.77,346.02 L363.02,346.93 L363.27,347.63 L363.52,348.14 L363.77,348.52 L364.02,348.78 L364.27,348.94 L364.52,349.02 L364.77,349.00 L365.02,348.89 L365.27,348.67 L365.52,348.35 L365.77,347.98 L366.02,347.73 L366.27,347.75 L366.52,348.07 L366.77,348.54 L367.02,348.99 L367.27,349.37 L367.52,349.65 L367.77,349.87 L368.02,350.02 L368.27,350.14 L368.52,350.23 L368.77,350.30 L369.02,350.36 L369.27,350.42 L369.52,350.46 L369.77,350.50 L370.02,350.54 L370.27,350.58 L370.52,350.62 L370.77,350.66 L371.02,350.69 L371.27,350.73 L371.52,350.76 L371.77,350.78 L372.02,350.81 L372.27,350.83 L372.52,350.85 L372.77,350.86 L373.02,350.88 L373.27,350.89 L373.52,350.89 L373.77,350.90 L374.02,350.90 L374.27,350.91 L374.52,350.91 L374.77,350.92 L375.02,350.92 L375.27,350.93 L375.52,350.94 L375.77,350.94 L376.02,350.95 L376.27,350.96 L376.52,350.96 L376.77,350.97 L377.02,350.97 L377.27,350.96 L377.52,350.96 L377.77,350.95 L378.02,350.94 L378.27,350.92 L378.52,350.90 L378.77,350.88 L379.02,350.86 L379.27,350.84 L379.52,350.82 L379.77,350.80 L380.02,350.78 L380.27,350.76 L380.52,350.75 L380.77,350.75 L381.02,350.75 L381.27,350.75 L381.52,350.76 L381.77,350.77 L382.02,350.78 L382.27,350.79 L382.52,350.81 L382.77,350.83 L383.02,350.84 L383.27,350.86 L383.52,350.87 L383.77,350.89 L384.02,350.90 L384.27,350.90 L384.52,350.91 L384.77,350.91 L385.02,350.92 L385.27,350.92 L385.52,350.92 L385.77,350.93 L386.02,350.93 L386.27,350.93 L386.52,350.94 L386.77,350.95 L387.02,350.95 L387.27,350.96 L387.52,350.97 L387.77,350.98 L388.02,350.98 L388.27,350.99 L388.52,350.99 L388.77,350.98 L389.02,350.97 L389.27,350.96 L389.52,350.95 L389.77,350.93 L390.02,350.90 L390.27,350.88 L390.52,350.85 L390.77,350.81 L391.02,350.78 L391.27,350.74 L391.52,350.70 L391.77,350.66 L392.02,350.62 L392.27,350.56 L392.52,350.50 L392.77,350.42 L393.02,350.32 L393.27,350.20 L393.52,350.05 L393.77,349.90 L394.02,349.76 L394.27,349.70 L394.52,349.74 L394.77,349.87 L395.02,350.06 L395.27,350.24 L395.52,350.40 L395.77,350.53 L396.02,350.63 L396.27,350.71 L396.52,350.77 L396.77,350.82 L397.02,350.86 L397.27,350.89 L397.52,350.92 L397.77,350.94 L398.02,350.96 L398.27,350.98 L398.52,350.99 L398.77,351.01 L399.02,351.02 L399.27,351.03 L399.52,351.04 L399.77,351.04 L400.02,351.04 L400.27,351.04 L400.52,351.03 L400.77,351.02 L401.02,351.00 L401.27,350.99 L401.52,350.96 L401.77,350.94 L402.02,350.92 L402.27,350.89 L402.52,350.87 L402.77,350.85 L403.02,350.83 L403.27,350.81 L403.52,350.80 L403.77,350.79 L404.02,350.79 L404.27,350.79 L404.52,350.79 L404.77,350.80 L405.02,350.81 L405.27,350.82 L405.52,350.83 L405.77,350.84 L406.02,350.85 L406.27,350.85 L406.52,350.86 L406.77,350.86 L407.02,350.86 L407.27,350.86 L407.52,350.85 L407.77,350.85 L408.02,350.84 L408.27,350.83 L408.52,350.82 L408.77,350.81 L409.02,350.80 L409.27,350.79 L409.52,350.78 L409.77,350.77 L410.02,350.76 L410.27,350.75 L410.52,350.73 L410.77,350.71 L411.02,350.69 L411.27,350.65 L411.52,350.61 L411.77,350.56 L412.02,350.50 L412.27,350.41 L412.52,350.32 L412.77,350.20 L413.02,350.05 L413.27,349.87 L413.52,349.66 L413.77,349.41 L414.02,349.13 L414.27,348.84 L414.52,348.57 L414.77,348.39 L415.02,348.34 L415.27,348.45 L415.52,348.67 L415.77,348.95 L416.02,349.23 L416.27,349.49 L416.52,349.71 L416.77,349.89 L417.02,350.05 L417.27,350.17 L417.52,350.28 L417.77,350.36 L418.02,350.43 L418.27,350.48 L418.52,350.53 L418.77,350.56 L419.02,350.59 L419.27,350.61 L419.52,350.62 L419.77,350.63 L420.02,350.64 L420.27,350.64 L420.52,350.64 L420.77,350.64 L421.02,350.63 L421.27,350.63 L421.52,350.62 L421.77,350.61 L422.02,350.59 L422.27,350.57 L422.52,350.54 L422.77,350.50 L423.02,350.45 L423.27,350.39 L423.52,350.32 L423.77,350.23 L424.02,350.13 L424.27,350.00 L424.52,349.85 L424.77,349.66 L425.02,349.44 L425.27,349.17 L425.52,348.85 L425.77,348.46 L426.02,348.00 L426.27,347.47 L426.52,346.85 L426.77,346.16 L427.02,345.44 L427.27,344.71 L427.52,344.08 L427.77,343.64 L428.02,343.49 L428.27,343.66 L428.52,344.10 L428.77,344.73 L429.02,345.44 L429.27,346.14 L429.52,346.78 L429.77,347.35 L430.02,347.82 L430.27,348.20 L430.52,348.49 L430.77,348.71 L431.02,348.85 L431.27,348.92 L431.52,348.92 L431.77,348.84 L432.02,348.70 L432.27,348.49 L432.52,348.27 L432.77,348.13 L433.02,348.14 L433.27,348.26 L433.52,348.39 L433.77,348.46 L434.02,348.42 L434.27,348.26 L434.52,347.97 L434.77,347.53 L435.02,346.94 L435.27,346.19 L435.52,345.28 L435.77,344.25 L436.02,343.21 L436.27,342.34 L436.52,341.87 L436.77,341.95 L437.02,342.56 L437.27,343.49 L437.52,344.52 L437.77,345.50 L438.02,346.35 L438.27,347.06 L438.52,347.61 L438.77,348.04 L439.02,348.35 L439.27,348.56 L439.52,348.70 L439.77,348.76 L440.02,348.76 L440.27,348.71 L440.52,348.62 L440.77,348.51 L441.02,348.41 L441.27,348.37 L441.52,348.41 L441.77,348.53 L442.02,348.71 L442.27,348.92 L442.52,349.13 L442.77,349.31 L443.02,349.46 L443.27,349.59 L443.52,349.69 L443.77,349.76 L444.02,349.81 L444.27,349.84 L444.52,349.86 L444.77,349.85 L445.02,349.82 L445.27,349.76 L445.52,349.68 L445.77,349.57 L446.02,349.41 L446.27,349.21 L446.52,348.96 L446.77,348.63 L447.02,348.23 L447.27,347.77 L447.52,347.25 L447.77,346.76 L448.02,346.37 L448.27,346.21 L448.52,346.33 L448.77,346.67 L449.02,347.15 L449.27,347.65 L449.52,348.12 L449.77,348.53 L450.02,348.87 L450.27,349.15 L450.52,349.38 L450.77,349.58 L451.02,349.74 L451.27,349.87 L451.52,349.98 L451.77,350.07 L452.02,350.15 L452.27,350.22 L452.52,350.27 L452.77,350.31 L453.02,350.34 L453.27,350.37 L453.52,350.39 L453.77,350.40 L454.02,350.41 L454.27,350.42 L454.52,350.43 L454.77,350.43 L455.02,350.43 L455.27,350.43 L455.52,350.43 L455.77,350.43 L456.02,350.43 L456.27,350.42 L456.52,350.41 L456.77,350.40 L457.02,350.38 L457.27,350.36 L457.52,350.33 L457.77,350.30 L458.02,350.26 L458.27,350.22 L458.52,350.17 L458.77,350.12 L459.02,350.06 L459.27,350.00 L459.52,349.94 L459.77,349.88 L460.02,349.82 L460.27,349.75 L460.52,349.69 L460.77,349.63 L461.02,349.56 L461.27,349.50 L461.52,349.43 L461.77,349.36 L462.02,349.29 L462.27,349.21 L462.52,349.12 L462.77,349.01 L463.02,348.90 L463.27,348.76 L463.52,348.60 L463.77,348.41 L464.02,348.19 L464.27,347.92 L464.52,347.61 L464.77,347.23 L465.02,346.77 L465.27,346.22 L465.52,345.57 L465.77,344.79 L466.02,343.88 L466.27,342.80 L466.52,341.56 L466.77,340.13 L467.02,338.52 L467.27,336.72 L467.52,334.75 L467.77,332.62 L468.02,330.38 L468.27,328.09 L468.52,325.83 L468.77,323.71 L469.02,321.88 L469.27,320.45 L469.52,319.55 L469.77,319.21 L470.02,319.42 L470.27,320.08 L470.52,321.08 L470.77,322.26 L471.02,323.53 L471.27,324.79 L471.52,325.98 L471.77,327.10 L472.02,328.12 L472.27,329.08 L472.52,329.97 L472.77,330.80 L473.02,331.59 L473.27,332.32 L473.52,333.00 L473.77,333.63 L474.02,334.24 L474.27,334.82 L474.52,335.40 L474.77,335.99 L475.02,336.60 L475.27,337.25 L475.52,337.92 L475.77,338.62 L476.02,339.34 L476.27,340.08 L476.52,340.84 L476.77,341.59 L477.02,342.33 L477.27,343.07 L477.52,343.77 L477.77,344.45 L478.02,345.10 L478.27,345.71 L478.52,346.27 L478.77,346.79 L479.02,347.27 L479.27,347.69 L479.52,348.08 L479.77,348.41 L480.02,348.71 L480.27,348.96 L480.52,349.18 L480.77,349.36 L481.02,349.52 L481.27,349.65 L481.52,349.75 L481.77,349.84 L482.02,349.91 L482.27,349.96 L482.52,350.01 L482.77,350.05 L483.02,350.09 L483.27,350.12 L483.52,350.16 L483.77,350.19 L484.02,350.22 L484.27,350.26 L484.52,350.29 L484.77,350.33 L485.02,350.36 L485.27,350.40 L485.52,350.43 L485.77,350.47 L486.02,350.50 L486.27,350.53 L486.52,350.55 L486.77,350.58 L487.02,350.60 L487.27,350.61 L487.52,350.63 L487.77,350.64 L488.02,350.65 L488.27,350.66 L488.52,350.67 L488.77,350.68 L489.02,350.69 L489.27,350.71 L489.52,350.72 L489.77,350.73 L490.02,350.75 L490.27,350.76 L490.52,350.77 L490.77,350.79 L491.02,350.80 L491.27,350.80 L491.52,350.81 L491.77,350.81 L492.02,350.81 L492.27,350.80 L492.52,350.79 L492.77,350.78 L493.02,350.77 L493.27,350.75 L493.52,350.74 L493.77,350.72 L494.02,350.71 L494.27,350.70 L494.52,350.70 L494.77,350.69 L495.02,350.69 L495.27,350.70 L495.52,350.71 L495.77,350.72 L496.02,350.74 L496.27,350.76 L496.52,350.78 L496.77,350.81 L497.02,350.83 L497.27,350.85 L497.52,350.87 L497.77,350.89 L498.02,350.91 L498.27,350.93 L498.52,350.94 L498.77,350.95 L499.02,350.96 L499.27,350.97 L499.52,350.98 L499.77,350.98 L500.02,350.99 L500.27,351.00 L500.52,351.01 L500.77,351.02 L501.02,351.03 L501.27,351.04 L501.52,351.05 L501.77,351.07 L502.02,351.08 L502.27,351.09 L502.52,351.09 L502.77,351.10 L503.02,351.10 L503.27,351.10 L503.52,351.09 L503.77,351.08 L504.02,351.07 L504.27,351.05 L504.52,351.04 L504.77,351.02 L505.02,351.00 L505.27,350.98 L505.52,350.96 L505.77,350.95 L506.02,350.94 L506.27,350.93 L506.52,350.93 L506.77,350.93 L507.02,350.93 L507.27,350.94 L507.52,350.95 L507.77,350.97 L508.02,350.98 L508.27,351.00 L508.52,351.01 L508.77,351.03 L509.02,351.04 L509.27,351.05 L509.52,351.06 L509.77,351.07 L510.02,351.07 L510.27,351.07 L510.52,351.07 L510.77,351.07 L511.02,351.07 L511.27,351.07 L511.52,351.07 L511.77,351.07 L512.02,351.07 L512.27,351.07 L512.52,351.07 L512.77,351.08 L513.02,351.08 L513.27,351.08 L513.52,351.09 L513.77,351.09 L514.02,351.09 L514.27,351.08 L514.52,351.08 L514.77,351.07 L515.02,351.05 L515.27,351.04 L515.52,351.02 L515.77,351.00 L516.02,350.97 L516.27,350.95 L516.52,350.93 L516.77,350.91 L517.02,350.89 L517.27,350.87 L517.52,350.86 L517.77,350.85 L518.02,350.85 L518.27,350.85 L518.52,350.85 L518.77,350.86 L519.02,350.87 L519.27,350.89 L519.52,350.90 L519.77,350.92 L520.02,350.94 L520.27,350.95 L520.52,350.97 L520.77,350.98 L521.02,350.99 L521.27,351.00 L521.52,351.01 L521.77,351.02 L522.02,351.02 L522.27,351.02 L522.52,351.03 L522.77,351.03 L523.02,351.04 L523.27,351.04 L523.52,351.05 L523.77,351.06 L524.02,351.07 L524.27,351.08 L524.52,351.09 L524.77,351.10 L525.02,351.11 L525.27,351.12 L525.52,351.12 L525.77,351.12 L526.02,351.12 L526.27,351.12 L526.52,351.11 L526.77,351.10 L527.02,351.09 L527.27,351.07 L527.52,351.05 L527.77,351.04 L528.02,351.02 L528.27,351.00 L528.52,350.99 L528.77,350.98 L529.02,350.97 L529.27,350.97 L529.52,350.97 L529.77,350.98 L530.02,350.99 L530.27,351.00 L530.52,351.02 L530.77,351.03 L531.02,351.05 L531.27,351.07 L531.52,351.09 L531.77,351.10 L532.02,351.12 L532.27,351.13 L532.52,351.14 L532.77,351.15 L533.02,351.15 L533.27,351.16 L533.52,351.16 L533.77,351.16 L534.02,351.16 L534.27,351.16 L534.52,351.16 L534.77,351.16"/>
<text class="L" transform="translate(19.5,95.0) scale(1.04,1)" style="font-size:19.4px" fill="#0c0c0c" stroke="#0c0c0c">A</text>
<text transform="translate(21.3,231.0) scale(0.86,1)" class="L" style="font-size:20px" fill="#1212c0" stroke="#1212c0">B</text>
<text transform="translate(19.9,338.7) scale(1.04,1.02)" class="L" style="font-size:19px" fill="#0e8619" stroke="#0e8619">C</text>
<text class="s" x="15.6" y="120.8" fill="#0c0c0c" stroke="#0c0c0c">329</text>
<text class="s" x="33.6" y="120.8" fill="#0c0c0c" stroke="#0c0c0c">343</text>
<text class="s" x="99.0" y="101.2" fill="#0c0c0c" stroke="#0c0c0c">551</text>
<text class="s" x="109.8" y="110.8" fill="#0c0c0c" stroke="#0c0c0c">579</text>
<text class="s" x="156.0" y="123.2" fill="#0c0c0c" stroke="#0c0c0c">718</text>
<text class="s" x="170.6" y="54.6" fill="#0c0c0c" stroke="#0c0c0c">761</text>
<text class="s" x="185.6" y="101.4" fill="#0c0c0c" stroke="#0c0c0c">783</text>
<text class="s" x="274.3" y="47.1" fill="#0c0c0c" stroke="#0c0c0c">1034</text>
<text class="s" x="292.2" y="110.8" fill="#0c0c0c" stroke="#0c0c0c">1152</text>
<text class="s" x="313.0" y="106.2" fill="#0c0c0c" stroke="#0c0c0c">1161</text>
<text class="s" x="290.1" y="127.1" fill="#0c0c0c" stroke="#0c0c0c">1115</text>
<text class="s" x="345.8" y="87.4" fill="#0c0c0c" stroke="#0c0c0c">1276</text>
<text class="s" x="366.4" y="119.7" fill="#0c0c0c" stroke="#0c0c0c">1337</text>
<text class="s" x="405.7" y="125.0" fill="#0c0c0c" stroke="#0c0c0c">1460</text>
<text class="s" x="427.3" y="125.0" fill="#0c0c0c" stroke="#0c0c0c">1504</text>
<text class="s" x="455.0" y="91.8" fill="#0c0c0c" stroke="#0c0c0c">1594</text>
<text class="s" x="49.6" y="227.9" fill="#1212c0" stroke="#1212c0">408</text>
<text class="s" x="91.7" y="208.6" fill="#1212c0" stroke="#1212c0">530</text>
<text class="s" x="110.2" y="203.8" fill="#1212c0" stroke="#1212c0">585</text>
<text class="s" x="148.7" y="235.1" fill="#1212c0" stroke="#1212c0">696</text>
<text class="s" x="175.8" y="155.0" fill="#1212c0" stroke="#1212c0">744</text>
<text class="s" x="249.5" y="228.4" fill="#1212c0" stroke="#1212c0">1023</text>
<text class="s" x="264.7" y="167.7" fill="#1212c0" stroke="#1212c0">1039</text>
<text class="s" x="279.0" y="221.3" fill="#1212c0" stroke="#1212c0">1076</text>
<text class="s" x="290.3" y="233.1" fill="#1212c0" stroke="#1212c0">1118</text>
<text class="s" x="303.0" y="214.4" fill="#1212c0" stroke="#1212c0">1152</text>
<text class="s" x="316.7" y="235.0" fill="#1212c0" stroke="#1212c0">1180</text>
<text class="s" x="334.7" y="172.6" fill="#1212c0" stroke="#1212c0">1243</text>
<text class="s" x="352.9" y="228.4" fill="#1212c0" stroke="#1212c0">1296</text>
<text class="s" x="412.1" y="230.4" fill="#1212c0" stroke="#1212c0">1489</text>
<text class="s" x="427.1" y="220.2" fill="#1212c0" stroke="#1212c0">1514</text>
<text class="s" x="438.9" y="232.1" fill="#1212c0" stroke="#1212c0">1548</text>
<text class="s" x="460.3" y="205.7" fill="#1212c0" stroke="#1212c0">1610</text>
</svg>
</body></html>
